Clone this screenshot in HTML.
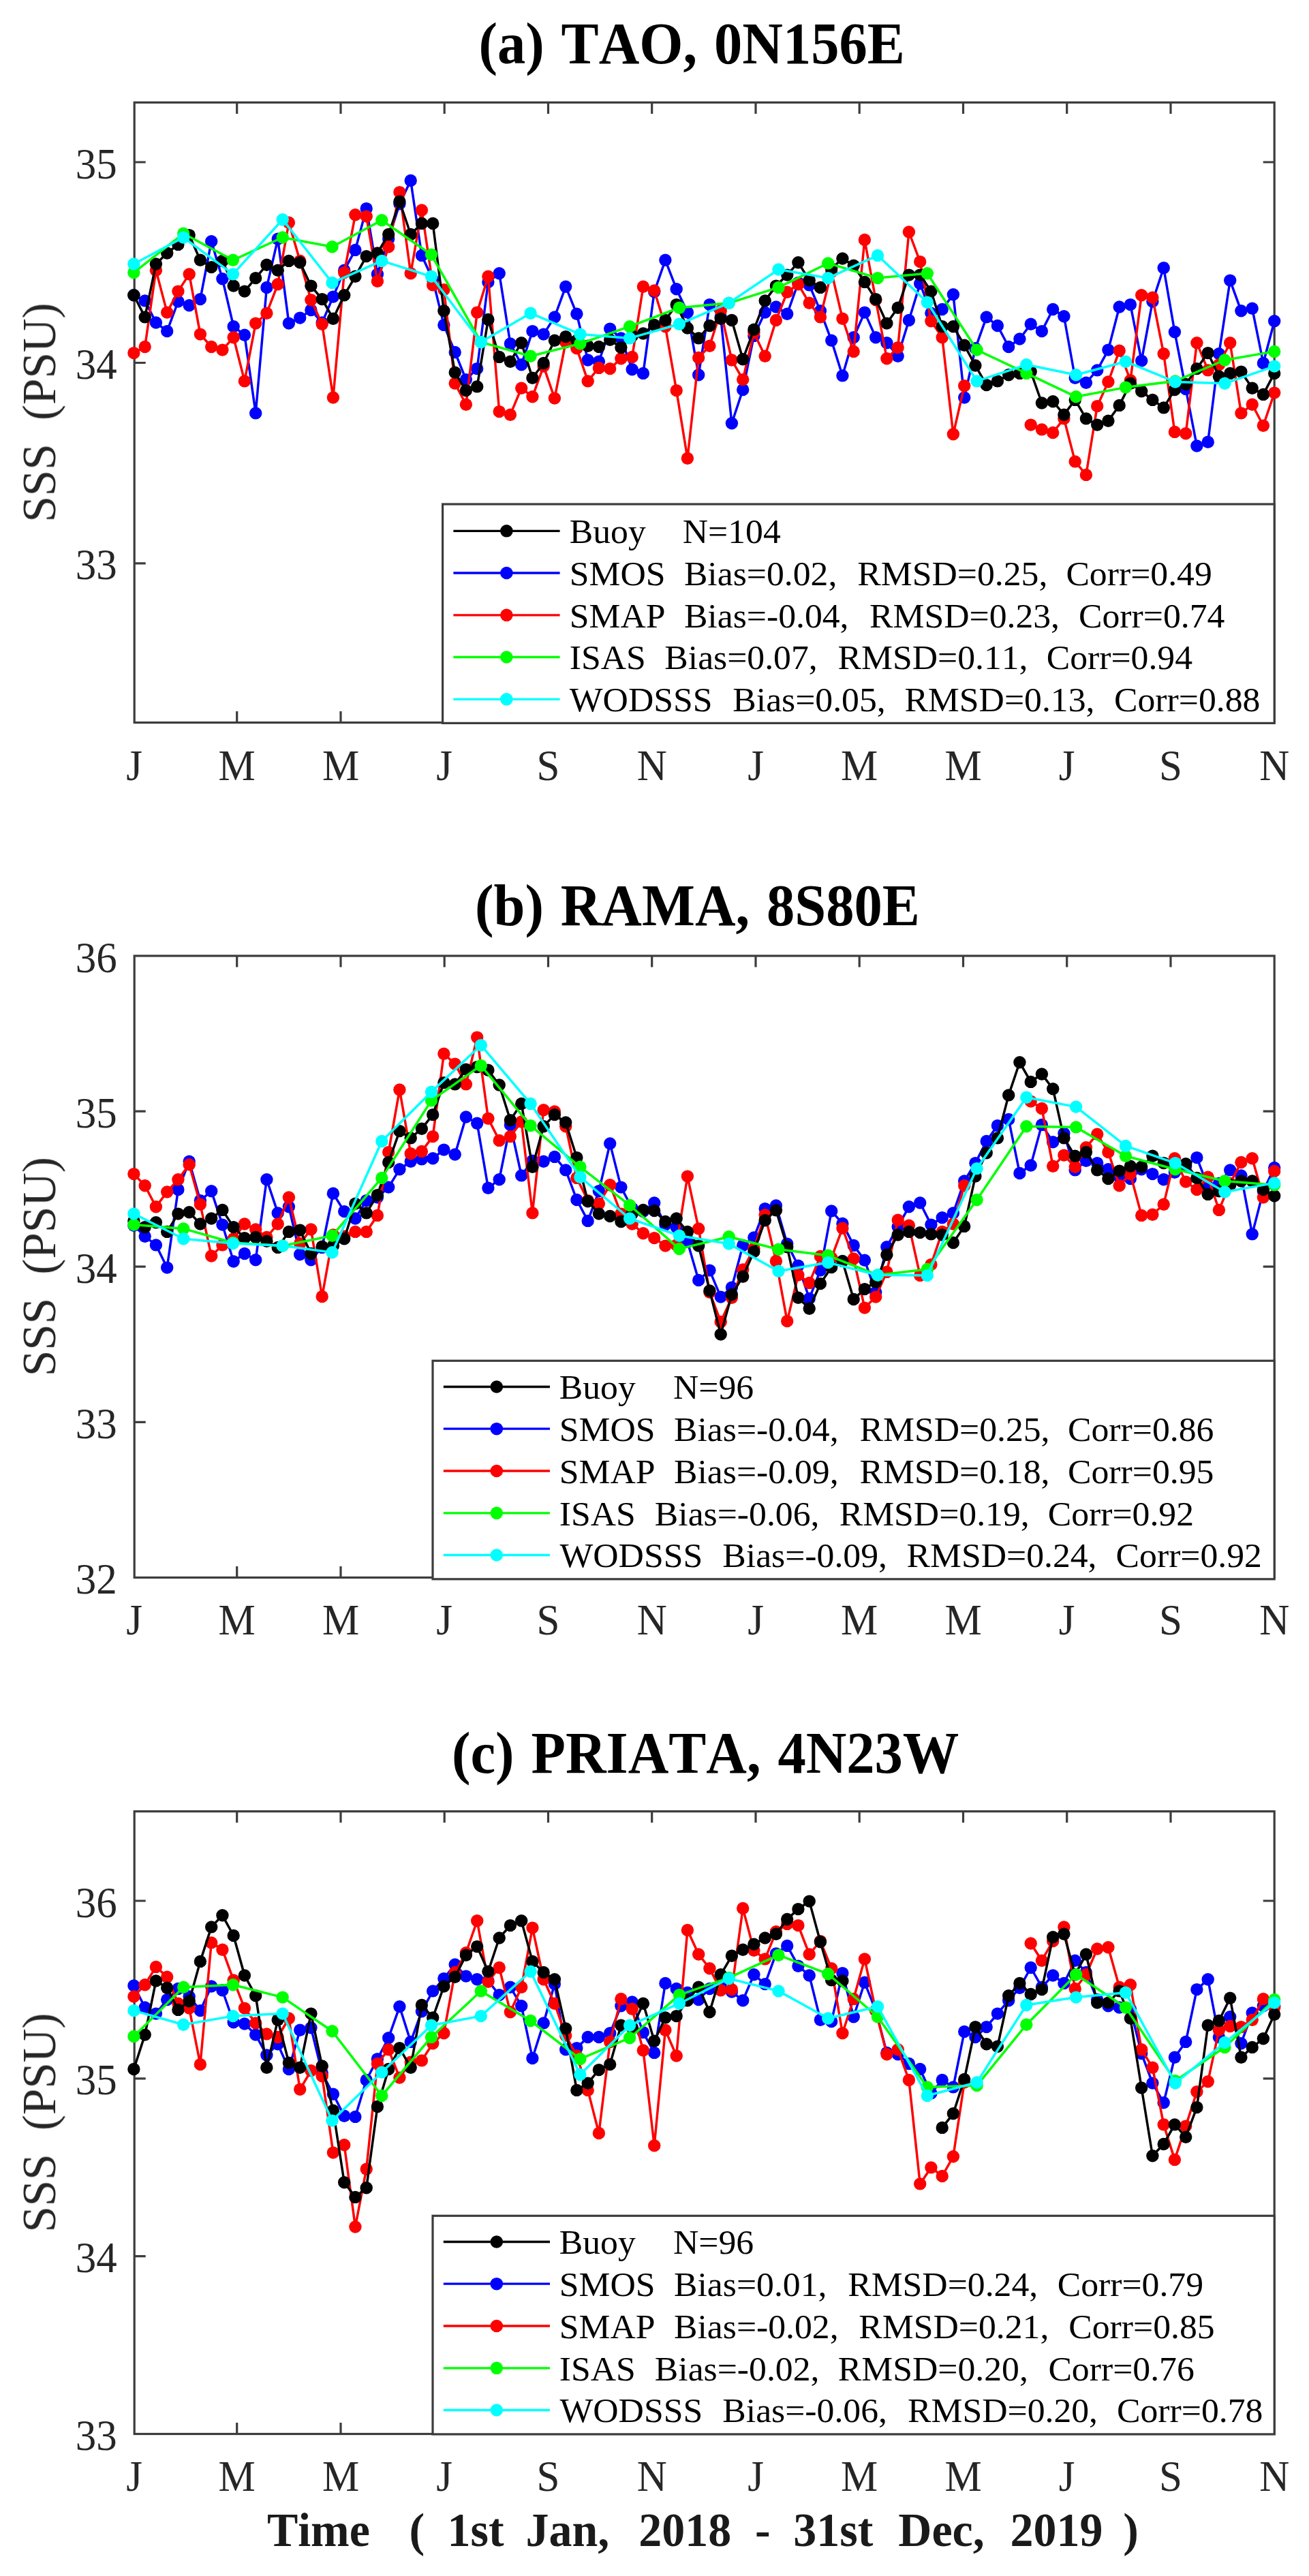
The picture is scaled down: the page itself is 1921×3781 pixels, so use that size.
<!DOCTYPE html>
<html lang="en"><head><meta charset="utf-8"><title>SSS time series: TAO, RAMA, PIRATA</title>
<style>html,body{margin:0;padding:0;background:#fff}svg{display:block}text{font-kerning:none;font-feature-settings:"kern" 0,"liga" 0;font-family:"Liberation Serif","Times New Roman",serif;fill:#262626}.t{font-size:63px}.l{font-size:51.7px;fill:#000}.ti{font-size:87.5px;word-spacing:4.5px;font-weight:bold;fill:#000}.yl{font-size:69px}.xl{font-size:70px;font-weight:bold;fill:#1a1a1a}</style></head><body>
<svg width="1921" height="3781" viewBox="0 0 1921 3781">
<rect x="0" y="0" width="1921" height="3781" fill="#ffffff"/>
<defs><filter id="soft" color-interpolation-filters="sRGB" filterUnits="userSpaceOnUse" x="0" y="0" width="1921" height="3781"><feGaussianBlur stdDeviation="0.6"/></filter></defs>
<g filter="url(#soft)">
<g stroke="#3c3c3c" stroke-width="3.2" fill="none" stroke-linecap="butt">
<rect x="197.2" y="150.4" width="1673.0" height="910.2"/>
<path d="M347.7 1060.6v-16.5M347.7 150.4v16.5"/>
<path d="M500.0 1060.6v-16.5M500.0 150.4v16.5"/>
<path d="M652.2 1060.6v-16.5M652.2 150.4v16.5"/>
<path d="M804.5 1060.6v-16.5M804.5 150.4v16.5"/>
<path d="M956.7 1060.6v-16.5M956.7 150.4v16.5"/>
<path d="M1109.0 1060.6v-16.5M1109.0 150.4v16.5"/>
<path d="M1261.2 1060.6v-16.5M1261.2 150.4v16.5"/>
<path d="M1413.5 1060.6v-16.5M1413.5 150.4v16.5"/>
<path d="M1565.7 1060.6v-16.5M1565.7 150.4v16.5"/>
<path d="M1718.0 1060.6v-16.5M1718.0 150.4v16.5"/>
<path d="M197.2 238.0h16.5M1870.2 238.0h-16.5"/>
<path d="M197.2 532.5h16.5M1870.2 532.5h-16.5"/>
<path d="M197.2 826.9h16.5M1870.2 826.9h-16.5"/>
</g>
<clipPath id="ca"><rect x="185.2" y="150.4" width="1697.0" height="910.2"/></clipPath>
<g clip-path="url(#ca)">
<g stroke="#0000ff" fill="#0000ff">
<polyline fill="none" stroke-width="3.5" stroke-linejoin="round" points="196.4,433.3 212.7,441.4 228.9,473.5 245.2,486.1 261.4,442.5 277.7,448.2 293.9,439.1 310.2,354.3 326.4,409.3 342.7,479.2 358.9,491.8 375.2,606.4 391.4,421.9 407.7,350.8 423.9,474.6 440.2,466.6 456.4,455.1 472.7,473.5 488.9,435.6 505.2,396.7 521.4,366.9 537.7,306.1 553.9,402.4 570.2,350.8 586.4,299.3 602.7,264.9 618.9,374.9 635.2,410.4 651.4,476.9 667.7,517.0 683.9,557.1 700.2,541.1 716.4,413.9 732.7,401.3 748.9,504.4 765.2,535.3 781.4,486.1 797.7,490.6 813.9,465.4 830.2,420.7 846.4,460.8 862.7,528.5 878.9,530.7 895.2,482.6 911.4,496.4 927.7,542.2 943.9,547.9 960.2,428.3 976.4,381.8 992.7,424.2 1008.9,458.6 1025.2,550.2 1041.4,447.1 1057.7,465.4 1073.9,621.3 1090.2,572.0 1106.4,492.9 1122.7,458.6 1138.9,450.5 1155.2,460.8 1171.4,415.0 1187.7,418.4 1203.9,456.3 1220.2,499.8 1236.4,551.4 1252.7,495.2 1268.9,458.6 1285.2,495.2 1301.4,503.2 1317.7,522.7 1333.9,470.0 1350.2,416.2 1366.4,459.7 1382.7,454.0 1398.9,432.2 1415.2,583.5 1431.4,511.3 1447.7,465.4 1463.9,478.0 1480.2,509.0 1496.4,497.5 1512.7,475.7 1528.9,486.1 1545.2,454.0 1561.4,464.3 1577.7,554.8 1593.9,561.7 1610.2,543.4 1626.4,513.6 1642.7,450.5 1658.9,447.1 1675.2,529.6 1691.4,442.5 1707.7,393.2 1723.9,487.2 1740.2,570.9 1756.4,654.5 1772.7,648.8 1788.9,519.3 1805.2,411.6 1821.4,456.3 1837.7,452.8 1853.9,533.0 1870.2,471.2"/>
<circle cx="196.4" cy="433.3" r="9.2" stroke="none"/>
<circle cx="212.7" cy="441.4" r="9.2" stroke="none"/>
<circle cx="228.9" cy="473.5" r="9.2" stroke="none"/>
<circle cx="245.2" cy="486.1" r="9.2" stroke="none"/>
<circle cx="261.4" cy="442.5" r="9.2" stroke="none"/>
<circle cx="277.7" cy="448.2" r="9.2" stroke="none"/>
<circle cx="293.9" cy="439.1" r="9.2" stroke="none"/>
<circle cx="310.2" cy="354.3" r="9.2" stroke="none"/>
<circle cx="326.4" cy="409.3" r="9.2" stroke="none"/>
<circle cx="342.7" cy="479.2" r="9.2" stroke="none"/>
<circle cx="358.9" cy="491.8" r="9.2" stroke="none"/>
<circle cx="375.2" cy="606.4" r="9.2" stroke="none"/>
<circle cx="391.4" cy="421.9" r="9.2" stroke="none"/>
<circle cx="407.7" cy="350.8" r="9.2" stroke="none"/>
<circle cx="423.9" cy="474.6" r="9.2" stroke="none"/>
<circle cx="440.2" cy="466.6" r="9.2" stroke="none"/>
<circle cx="456.4" cy="455.1" r="9.2" stroke="none"/>
<circle cx="472.7" cy="473.5" r="9.2" stroke="none"/>
<circle cx="488.9" cy="435.6" r="9.2" stroke="none"/>
<circle cx="505.2" cy="396.7" r="9.2" stroke="none"/>
<circle cx="521.4" cy="366.9" r="9.2" stroke="none"/>
<circle cx="537.7" cy="306.1" r="9.2" stroke="none"/>
<circle cx="553.9" cy="402.4" r="9.2" stroke="none"/>
<circle cx="570.2" cy="350.8" r="9.2" stroke="none"/>
<circle cx="586.4" cy="299.3" r="9.2" stroke="none"/>
<circle cx="602.7" cy="264.9" r="9.2" stroke="none"/>
<circle cx="618.9" cy="374.9" r="9.2" stroke="none"/>
<circle cx="635.2" cy="410.4" r="9.2" stroke="none"/>
<circle cx="651.4" cy="476.9" r="9.2" stroke="none"/>
<circle cx="667.7" cy="517.0" r="9.2" stroke="none"/>
<circle cx="683.9" cy="557.1" r="9.2" stroke="none"/>
<circle cx="700.2" cy="541.1" r="9.2" stroke="none"/>
<circle cx="716.4" cy="413.9" r="9.2" stroke="none"/>
<circle cx="732.7" cy="401.3" r="9.2" stroke="none"/>
<circle cx="748.9" cy="504.4" r="9.2" stroke="none"/>
<circle cx="765.2" cy="535.3" r="9.2" stroke="none"/>
<circle cx="781.4" cy="486.1" r="9.2" stroke="none"/>
<circle cx="797.7" cy="490.6" r="9.2" stroke="none"/>
<circle cx="813.9" cy="465.4" r="9.2" stroke="none"/>
<circle cx="830.2" cy="420.7" r="9.2" stroke="none"/>
<circle cx="846.4" cy="460.8" r="9.2" stroke="none"/>
<circle cx="862.7" cy="528.5" r="9.2" stroke="none"/>
<circle cx="878.9" cy="530.7" r="9.2" stroke="none"/>
<circle cx="895.2" cy="482.6" r="9.2" stroke="none"/>
<circle cx="911.4" cy="496.4" r="9.2" stroke="none"/>
<circle cx="927.7" cy="542.2" r="9.2" stroke="none"/>
<circle cx="943.9" cy="547.9" r="9.2" stroke="none"/>
<circle cx="960.2" cy="428.3" r="9.2" stroke="none"/>
<circle cx="976.4" cy="381.8" r="9.2" stroke="none"/>
<circle cx="992.7" cy="424.2" r="9.2" stroke="none"/>
<circle cx="1008.9" cy="458.6" r="9.2" stroke="none"/>
<circle cx="1025.2" cy="550.2" r="9.2" stroke="none"/>
<circle cx="1041.4" cy="447.1" r="9.2" stroke="none"/>
<circle cx="1057.7" cy="465.4" r="9.2" stroke="none"/>
<circle cx="1073.9" cy="621.3" r="9.2" stroke="none"/>
<circle cx="1090.2" cy="572.0" r="9.2" stroke="none"/>
<circle cx="1106.4" cy="492.9" r="9.2" stroke="none"/>
<circle cx="1122.7" cy="458.6" r="9.2" stroke="none"/>
<circle cx="1138.9" cy="450.5" r="9.2" stroke="none"/>
<circle cx="1155.2" cy="460.8" r="9.2" stroke="none"/>
<circle cx="1171.4" cy="415.0" r="9.2" stroke="none"/>
<circle cx="1187.7" cy="418.4" r="9.2" stroke="none"/>
<circle cx="1203.9" cy="456.3" r="9.2" stroke="none"/>
<circle cx="1220.2" cy="499.8" r="9.2" stroke="none"/>
<circle cx="1236.4" cy="551.4" r="9.2" stroke="none"/>
<circle cx="1252.7" cy="495.2" r="9.2" stroke="none"/>
<circle cx="1268.9" cy="458.6" r="9.2" stroke="none"/>
<circle cx="1285.2" cy="495.2" r="9.2" stroke="none"/>
<circle cx="1301.4" cy="503.2" r="9.2" stroke="none"/>
<circle cx="1317.7" cy="522.7" r="9.2" stroke="none"/>
<circle cx="1333.9" cy="470.0" r="9.2" stroke="none"/>
<circle cx="1350.2" cy="416.2" r="9.2" stroke="none"/>
<circle cx="1366.4" cy="459.7" r="9.2" stroke="none"/>
<circle cx="1382.7" cy="454.0" r="9.2" stroke="none"/>
<circle cx="1398.9" cy="432.2" r="9.2" stroke="none"/>
<circle cx="1415.2" cy="583.5" r="9.2" stroke="none"/>
<circle cx="1431.4" cy="511.3" r="9.2" stroke="none"/>
<circle cx="1447.7" cy="465.4" r="9.2" stroke="none"/>
<circle cx="1463.9" cy="478.0" r="9.2" stroke="none"/>
<circle cx="1480.2" cy="509.0" r="9.2" stroke="none"/>
<circle cx="1496.4" cy="497.5" r="9.2" stroke="none"/>
<circle cx="1512.7" cy="475.7" r="9.2" stroke="none"/>
<circle cx="1528.9" cy="486.1" r="9.2" stroke="none"/>
<circle cx="1545.2" cy="454.0" r="9.2" stroke="none"/>
<circle cx="1561.4" cy="464.3" r="9.2" stroke="none"/>
<circle cx="1577.7" cy="554.8" r="9.2" stroke="none"/>
<circle cx="1593.9" cy="561.7" r="9.2" stroke="none"/>
<circle cx="1610.2" cy="543.4" r="9.2" stroke="none"/>
<circle cx="1626.4" cy="513.6" r="9.2" stroke="none"/>
<circle cx="1642.7" cy="450.5" r="9.2" stroke="none"/>
<circle cx="1658.9" cy="447.1" r="9.2" stroke="none"/>
<circle cx="1675.2" cy="529.6" r="9.2" stroke="none"/>
<circle cx="1691.4" cy="442.5" r="9.2" stroke="none"/>
<circle cx="1707.7" cy="393.2" r="9.2" stroke="none"/>
<circle cx="1723.9" cy="487.2" r="9.2" stroke="none"/>
<circle cx="1740.2" cy="570.9" r="9.2" stroke="none"/>
<circle cx="1756.4" cy="654.5" r="9.2" stroke="none"/>
<circle cx="1772.7" cy="648.8" r="9.2" stroke="none"/>
<circle cx="1788.9" cy="519.3" r="9.2" stroke="none"/>
<circle cx="1805.2" cy="411.6" r="9.2" stroke="none"/>
<circle cx="1821.4" cy="456.3" r="9.2" stroke="none"/>
<circle cx="1837.7" cy="452.8" r="9.2" stroke="none"/>
<circle cx="1853.9" cy="533.0" r="9.2" stroke="none"/>
<circle cx="1870.2" cy="471.2" r="9.2" stroke="none"/>
</g>
<g stroke="#ff0000" fill="#ff0000">
<polyline fill="none" stroke-width="3.5" stroke-linejoin="round" points="196.4,518.1 212.7,509.0 228.9,396.7 245.2,458.6 261.4,427.6 277.7,402.4 293.9,490.6 310.2,509.0 326.4,513.6 342.7,495.2 358.9,559.4 375.2,474.6 391.4,459.7 407.7,417.3 423.9,326.8 440.2,382.9 456.4,440.2 472.7,475.7 488.9,583.5 505.2,400.1 521.4,315.3 537.7,317.6 553.9,412.7 570.2,362.3 586.4,282.1 602.7,401.3 618.9,308.4 635.2,418.4 651.4,425.3 667.7,562.8 683.9,593.8 700.2,458.6 716.4,405.8 732.7,604.1 748.9,608.7 765.2,569.7 781.4,582.3 797.7,537.6 813.9,584.6 830.2,502.1 846.4,511.3 862.7,559.4 878.9,539.9 895.2,541.1 911.4,526.2 927.7,523.9 943.9,420.7 960.2,426.5 976.4,479.2 992.7,573.1 1008.9,672.8 1025.2,525.0 1041.4,507.8 1057.7,456.3 1073.9,528.5 1090.2,557.1 1106.4,488.3 1122.7,522.7 1138.9,470.0 1155.2,428.8 1171.4,417.3 1187.7,444.8 1203.9,465.4 1220.2,399.0 1236.4,467.7 1252.7,515.9 1268.9,352.0 1285.2,440.2 1301.4,526.2 1317.7,510.1 1333.9,340.5 1350.2,384.1 1366.4,471.2 1382.7,495.2 1398.9,637.3 1415.2,566.3"/>
<polyline fill="none" stroke-width="3.5" stroke-linejoin="round" points="1512.7,623.6 1528.9,630.4 1545.2,635.0 1561.4,614.4 1577.7,677.4 1593.9,696.9 1610.2,596.1 1626.4,560.5 1642.7,514.7 1658.9,558.3 1675.2,433.3 1691.4,436.8 1707.7,519.3 1723.9,633.9 1740.2,636.2 1756.4,503.2 1772.7,543.4 1788.9,535.3 1805.2,503.2 1821.4,606.4 1837.7,593.8 1853.9,624.7 1870.2,576.6"/>
<circle cx="196.4" cy="518.1" r="9.2" stroke="none"/>
<circle cx="212.7" cy="509.0" r="9.2" stroke="none"/>
<circle cx="228.9" cy="396.7" r="9.2" stroke="none"/>
<circle cx="245.2" cy="458.6" r="9.2" stroke="none"/>
<circle cx="261.4" cy="427.6" r="9.2" stroke="none"/>
<circle cx="277.7" cy="402.4" r="9.2" stroke="none"/>
<circle cx="293.9" cy="490.6" r="9.2" stroke="none"/>
<circle cx="310.2" cy="509.0" r="9.2" stroke="none"/>
<circle cx="326.4" cy="513.6" r="9.2" stroke="none"/>
<circle cx="342.7" cy="495.2" r="9.2" stroke="none"/>
<circle cx="358.9" cy="559.4" r="9.2" stroke="none"/>
<circle cx="375.2" cy="474.6" r="9.2" stroke="none"/>
<circle cx="391.4" cy="459.7" r="9.2" stroke="none"/>
<circle cx="407.7" cy="417.3" r="9.2" stroke="none"/>
<circle cx="423.9" cy="326.8" r="9.2" stroke="none"/>
<circle cx="440.2" cy="382.9" r="9.2" stroke="none"/>
<circle cx="456.4" cy="440.2" r="9.2" stroke="none"/>
<circle cx="472.7" cy="475.7" r="9.2" stroke="none"/>
<circle cx="488.9" cy="583.5" r="9.2" stroke="none"/>
<circle cx="505.2" cy="400.1" r="9.2" stroke="none"/>
<circle cx="521.4" cy="315.3" r="9.2" stroke="none"/>
<circle cx="537.7" cy="317.6" r="9.2" stroke="none"/>
<circle cx="553.9" cy="412.7" r="9.2" stroke="none"/>
<circle cx="570.2" cy="362.3" r="9.2" stroke="none"/>
<circle cx="586.4" cy="282.1" r="9.2" stroke="none"/>
<circle cx="602.7" cy="401.3" r="9.2" stroke="none"/>
<circle cx="618.9" cy="308.4" r="9.2" stroke="none"/>
<circle cx="635.2" cy="418.4" r="9.2" stroke="none"/>
<circle cx="651.4" cy="425.3" r="9.2" stroke="none"/>
<circle cx="667.7" cy="562.8" r="9.2" stroke="none"/>
<circle cx="683.9" cy="593.8" r="9.2" stroke="none"/>
<circle cx="700.2" cy="458.6" r="9.2" stroke="none"/>
<circle cx="716.4" cy="405.8" r="9.2" stroke="none"/>
<circle cx="732.7" cy="604.1" r="9.2" stroke="none"/>
<circle cx="748.9" cy="608.7" r="9.2" stroke="none"/>
<circle cx="765.2" cy="569.7" r="9.2" stroke="none"/>
<circle cx="781.4" cy="582.3" r="9.2" stroke="none"/>
<circle cx="797.7" cy="537.6" r="9.2" stroke="none"/>
<circle cx="813.9" cy="584.6" r="9.2" stroke="none"/>
<circle cx="830.2" cy="502.1" r="9.2" stroke="none"/>
<circle cx="846.4" cy="511.3" r="9.2" stroke="none"/>
<circle cx="862.7" cy="559.4" r="9.2" stroke="none"/>
<circle cx="878.9" cy="539.9" r="9.2" stroke="none"/>
<circle cx="895.2" cy="541.1" r="9.2" stroke="none"/>
<circle cx="911.4" cy="526.2" r="9.2" stroke="none"/>
<circle cx="927.7" cy="523.9" r="9.2" stroke="none"/>
<circle cx="943.9" cy="420.7" r="9.2" stroke="none"/>
<circle cx="960.2" cy="426.5" r="9.2" stroke="none"/>
<circle cx="976.4" cy="479.2" r="9.2" stroke="none"/>
<circle cx="992.7" cy="573.1" r="9.2" stroke="none"/>
<circle cx="1008.9" cy="672.8" r="9.2" stroke="none"/>
<circle cx="1025.2" cy="525.0" r="9.2" stroke="none"/>
<circle cx="1041.4" cy="507.8" r="9.2" stroke="none"/>
<circle cx="1057.7" cy="456.3" r="9.2" stroke="none"/>
<circle cx="1073.9" cy="528.5" r="9.2" stroke="none"/>
<circle cx="1090.2" cy="557.1" r="9.2" stroke="none"/>
<circle cx="1106.4" cy="488.3" r="9.2" stroke="none"/>
<circle cx="1122.7" cy="522.7" r="9.2" stroke="none"/>
<circle cx="1138.9" cy="470.0" r="9.2" stroke="none"/>
<circle cx="1155.2" cy="428.8" r="9.2" stroke="none"/>
<circle cx="1171.4" cy="417.3" r="9.2" stroke="none"/>
<circle cx="1187.7" cy="444.8" r="9.2" stroke="none"/>
<circle cx="1203.9" cy="465.4" r="9.2" stroke="none"/>
<circle cx="1220.2" cy="399.0" r="9.2" stroke="none"/>
<circle cx="1236.4" cy="467.7" r="9.2" stroke="none"/>
<circle cx="1252.7" cy="515.9" r="9.2" stroke="none"/>
<circle cx="1268.9" cy="352.0" r="9.2" stroke="none"/>
<circle cx="1285.2" cy="440.2" r="9.2" stroke="none"/>
<circle cx="1301.4" cy="526.2" r="9.2" stroke="none"/>
<circle cx="1317.7" cy="510.1" r="9.2" stroke="none"/>
<circle cx="1333.9" cy="340.5" r="9.2" stroke="none"/>
<circle cx="1350.2" cy="384.1" r="9.2" stroke="none"/>
<circle cx="1366.4" cy="471.2" r="9.2" stroke="none"/>
<circle cx="1382.7" cy="495.2" r="9.2" stroke="none"/>
<circle cx="1398.9" cy="637.3" r="9.2" stroke="none"/>
<circle cx="1415.2" cy="566.3" r="9.2" stroke="none"/>
<circle cx="1512.7" cy="623.6" r="9.2" stroke="none"/>
<circle cx="1528.9" cy="630.4" r="9.2" stroke="none"/>
<circle cx="1545.2" cy="635.0" r="9.2" stroke="none"/>
<circle cx="1561.4" cy="614.4" r="9.2" stroke="none"/>
<circle cx="1577.7" cy="677.4" r="9.2" stroke="none"/>
<circle cx="1593.9" cy="696.9" r="9.2" stroke="none"/>
<circle cx="1610.2" cy="596.1" r="9.2" stroke="none"/>
<circle cx="1626.4" cy="560.5" r="9.2" stroke="none"/>
<circle cx="1642.7" cy="514.7" r="9.2" stroke="none"/>
<circle cx="1658.9" cy="558.3" r="9.2" stroke="none"/>
<circle cx="1675.2" cy="433.3" r="9.2" stroke="none"/>
<circle cx="1691.4" cy="436.8" r="9.2" stroke="none"/>
<circle cx="1707.7" cy="519.3" r="9.2" stroke="none"/>
<circle cx="1723.9" cy="633.9" r="9.2" stroke="none"/>
<circle cx="1740.2" cy="636.2" r="9.2" stroke="none"/>
<circle cx="1756.4" cy="503.2" r="9.2" stroke="none"/>
<circle cx="1772.7" cy="543.4" r="9.2" stroke="none"/>
<circle cx="1788.9" cy="535.3" r="9.2" stroke="none"/>
<circle cx="1805.2" cy="503.2" r="9.2" stroke="none"/>
<circle cx="1821.4" cy="606.4" r="9.2" stroke="none"/>
<circle cx="1837.7" cy="593.8" r="9.2" stroke="none"/>
<circle cx="1853.9" cy="624.7" r="9.2" stroke="none"/>
<circle cx="1870.2" cy="576.6" r="9.2" stroke="none"/>
</g>
<g stroke="#000000" fill="#000000">
<polyline fill="none" stroke-width="3.5" stroke-linejoin="round" points="196.4,433.3 212.7,465.4 228.9,387.5 245.2,371.5 261.4,358.9 277.7,345.1 293.9,381.8 310.2,392.1 326.4,382.9 342.7,419.6 358.9,427.6 375.2,408.1 391.4,388.7 407.7,396.7 423.9,382.9 440.2,385.2 456.4,419.6 472.7,439.1 488.9,467.7 505.2,433.3 521.4,405.8 537.7,376.1 553.9,371.5 570.2,344.0 586.4,295.8 602.7,344.0 618.9,327.9 635.2,327.9 651.4,456.3 667.7,546.8 683.9,573.1 700.2,567.4 716.4,468.9 732.7,523.9 748.9,530.7 765.2,503.2 781.4,554.8 797.7,533.0 813.9,499.8 830.2,494.1 846.4,499.8 862.7,507.8 878.9,509.0 895.2,498.7 911.4,510.1 927.7,492.9 943.9,489.5 960.2,476.9 976.4,470.0 992.7,447.1 1008.9,481.5 1025.2,496.4 1041.4,478.0 1057.7,467.7 1073.9,470.0 1090.2,527.3 1106.4,483.8 1122.7,441.4 1138.9,419.6 1155.2,403.6 1171.4,385.2 1187.7,411.6 1203.9,421.9 1220.2,394.4 1236.4,379.5 1252.7,389.8 1268.9,413.9 1285.2,439.1 1301.4,474.6 1317.7,451.7 1333.9,403.6 1350.2,403.6 1366.4,427.6 1382.7,479.2 1398.9,479.2 1415.2,506.7 1431.4,536.5 1447.7,565.1 1463.9,559.4 1480.2,550.2 1496.4,547.9 1512.7,545.6 1528.9,591.5 1545.2,589.2 1561.4,608.7 1577.7,586.9 1593.9,614.4 1610.2,623.6 1626.4,617.8 1642.7,594.9 1658.9,562.8 1675.2,574.3 1691.4,586.9 1707.7,598.4 1723.9,572.0 1740.2,564.0 1756.4,541.1 1772.7,518.1 1788.9,552.5 1805.2,547.9 1821.4,545.6 1837.7,569.7 1853.9,578.9 1870.2,547.9"/>
<circle cx="196.4" cy="433.3" r="9.2" stroke="none"/>
<circle cx="212.7" cy="465.4" r="9.2" stroke="none"/>
<circle cx="228.9" cy="387.5" r="9.2" stroke="none"/>
<circle cx="245.2" cy="371.5" r="9.2" stroke="none"/>
<circle cx="261.4" cy="358.9" r="9.2" stroke="none"/>
<circle cx="277.7" cy="345.1" r="9.2" stroke="none"/>
<circle cx="293.9" cy="381.8" r="9.2" stroke="none"/>
<circle cx="310.2" cy="392.1" r="9.2" stroke="none"/>
<circle cx="326.4" cy="382.9" r="9.2" stroke="none"/>
<circle cx="342.7" cy="419.6" r="9.2" stroke="none"/>
<circle cx="358.9" cy="427.6" r="9.2" stroke="none"/>
<circle cx="375.2" cy="408.1" r="9.2" stroke="none"/>
<circle cx="391.4" cy="388.7" r="9.2" stroke="none"/>
<circle cx="407.7" cy="396.7" r="9.2" stroke="none"/>
<circle cx="423.9" cy="382.9" r="9.2" stroke="none"/>
<circle cx="440.2" cy="385.2" r="9.2" stroke="none"/>
<circle cx="456.4" cy="419.6" r="9.2" stroke="none"/>
<circle cx="472.7" cy="439.1" r="9.2" stroke="none"/>
<circle cx="488.9" cy="467.7" r="9.2" stroke="none"/>
<circle cx="505.2" cy="433.3" r="9.2" stroke="none"/>
<circle cx="521.4" cy="405.8" r="9.2" stroke="none"/>
<circle cx="537.7" cy="376.1" r="9.2" stroke="none"/>
<circle cx="553.9" cy="371.5" r="9.2" stroke="none"/>
<circle cx="570.2" cy="344.0" r="9.2" stroke="none"/>
<circle cx="586.4" cy="295.8" r="9.2" stroke="none"/>
<circle cx="602.7" cy="344.0" r="9.2" stroke="none"/>
<circle cx="618.9" cy="327.9" r="9.2" stroke="none"/>
<circle cx="635.2" cy="327.9" r="9.2" stroke="none"/>
<circle cx="651.4" cy="456.3" r="9.2" stroke="none"/>
<circle cx="667.7" cy="546.8" r="9.2" stroke="none"/>
<circle cx="683.9" cy="573.1" r="9.2" stroke="none"/>
<circle cx="700.2" cy="567.4" r="9.2" stroke="none"/>
<circle cx="716.4" cy="468.9" r="9.2" stroke="none"/>
<circle cx="732.7" cy="523.9" r="9.2" stroke="none"/>
<circle cx="748.9" cy="530.7" r="9.2" stroke="none"/>
<circle cx="765.2" cy="503.2" r="9.2" stroke="none"/>
<circle cx="781.4" cy="554.8" r="9.2" stroke="none"/>
<circle cx="797.7" cy="533.0" r="9.2" stroke="none"/>
<circle cx="813.9" cy="499.8" r="9.2" stroke="none"/>
<circle cx="830.2" cy="494.1" r="9.2" stroke="none"/>
<circle cx="846.4" cy="499.8" r="9.2" stroke="none"/>
<circle cx="862.7" cy="507.8" r="9.2" stroke="none"/>
<circle cx="878.9" cy="509.0" r="9.2" stroke="none"/>
<circle cx="895.2" cy="498.7" r="9.2" stroke="none"/>
<circle cx="911.4" cy="510.1" r="9.2" stroke="none"/>
<circle cx="927.7" cy="492.9" r="9.2" stroke="none"/>
<circle cx="943.9" cy="489.5" r="9.2" stroke="none"/>
<circle cx="960.2" cy="476.9" r="9.2" stroke="none"/>
<circle cx="976.4" cy="470.0" r="9.2" stroke="none"/>
<circle cx="992.7" cy="447.1" r="9.2" stroke="none"/>
<circle cx="1008.9" cy="481.5" r="9.2" stroke="none"/>
<circle cx="1025.2" cy="496.4" r="9.2" stroke="none"/>
<circle cx="1041.4" cy="478.0" r="9.2" stroke="none"/>
<circle cx="1057.7" cy="467.7" r="9.2" stroke="none"/>
<circle cx="1073.9" cy="470.0" r="9.2" stroke="none"/>
<circle cx="1090.2" cy="527.3" r="9.2" stroke="none"/>
<circle cx="1106.4" cy="483.8" r="9.2" stroke="none"/>
<circle cx="1122.7" cy="441.4" r="9.2" stroke="none"/>
<circle cx="1138.9" cy="419.6" r="9.2" stroke="none"/>
<circle cx="1155.2" cy="403.6" r="9.2" stroke="none"/>
<circle cx="1171.4" cy="385.2" r="9.2" stroke="none"/>
<circle cx="1187.7" cy="411.6" r="9.2" stroke="none"/>
<circle cx="1203.9" cy="421.9" r="9.2" stroke="none"/>
<circle cx="1220.2" cy="394.4" r="9.2" stroke="none"/>
<circle cx="1236.4" cy="379.5" r="9.2" stroke="none"/>
<circle cx="1252.7" cy="389.8" r="9.2" stroke="none"/>
<circle cx="1268.9" cy="413.9" r="9.2" stroke="none"/>
<circle cx="1285.2" cy="439.1" r="9.2" stroke="none"/>
<circle cx="1301.4" cy="474.6" r="9.2" stroke="none"/>
<circle cx="1317.7" cy="451.7" r="9.2" stroke="none"/>
<circle cx="1333.9" cy="403.6" r="9.2" stroke="none"/>
<circle cx="1350.2" cy="403.6" r="9.2" stroke="none"/>
<circle cx="1366.4" cy="427.6" r="9.2" stroke="none"/>
<circle cx="1382.7" cy="479.2" r="9.2" stroke="none"/>
<circle cx="1398.9" cy="479.2" r="9.2" stroke="none"/>
<circle cx="1415.2" cy="506.7" r="9.2" stroke="none"/>
<circle cx="1431.4" cy="536.5" r="9.2" stroke="none"/>
<circle cx="1447.7" cy="565.1" r="9.2" stroke="none"/>
<circle cx="1463.9" cy="559.4" r="9.2" stroke="none"/>
<circle cx="1480.2" cy="550.2" r="9.2" stroke="none"/>
<circle cx="1496.4" cy="547.9" r="9.2" stroke="none"/>
<circle cx="1512.7" cy="545.6" r="9.2" stroke="none"/>
<circle cx="1528.9" cy="591.5" r="9.2" stroke="none"/>
<circle cx="1545.2" cy="589.2" r="9.2" stroke="none"/>
<circle cx="1561.4" cy="608.7" r="9.2" stroke="none"/>
<circle cx="1577.7" cy="586.9" r="9.2" stroke="none"/>
<circle cx="1593.9" cy="614.4" r="9.2" stroke="none"/>
<circle cx="1610.2" cy="623.6" r="9.2" stroke="none"/>
<circle cx="1626.4" cy="617.8" r="9.2" stroke="none"/>
<circle cx="1642.7" cy="594.9" r="9.2" stroke="none"/>
<circle cx="1658.9" cy="562.8" r="9.2" stroke="none"/>
<circle cx="1675.2" cy="574.3" r="9.2" stroke="none"/>
<circle cx="1691.4" cy="586.9" r="9.2" stroke="none"/>
<circle cx="1707.7" cy="598.4" r="9.2" stroke="none"/>
<circle cx="1723.9" cy="572.0" r="9.2" stroke="none"/>
<circle cx="1740.2" cy="564.0" r="9.2" stroke="none"/>
<circle cx="1756.4" cy="541.1" r="9.2" stroke="none"/>
<circle cx="1772.7" cy="518.1" r="9.2" stroke="none"/>
<circle cx="1788.9" cy="552.5" r="9.2" stroke="none"/>
<circle cx="1805.2" cy="547.9" r="9.2" stroke="none"/>
<circle cx="1821.4" cy="545.6" r="9.2" stroke="none"/>
<circle cx="1837.7" cy="569.7" r="9.2" stroke="none"/>
<circle cx="1853.9" cy="578.9" r="9.2" stroke="none"/>
<circle cx="1870.2" cy="547.9" r="9.2" stroke="none"/>
</g>
<g stroke="#00ff00" fill="#00ff00">
<polyline fill="none" stroke-width="3.5" stroke-linejoin="round" points="196.4,400.1 269.2,342.8 341.9,381.8 414.7,348.5 487.5,362.3 560.3,323.3 633.0,373.8 705.8,502.1 778.6,522.7 851.4,504.4 924.1,479.2 996.9,451.7 1069.7,444.8 1142.5,421.9 1215.2,386.4 1288.0,408.1 1360.8,401.3 1433.6,513.6 1506.3,547.9 1579.1,582.3 1651.9,568.6 1724.7,559.4 1797.4,528.5 1870.2,515.9"/>
<circle cx="196.4" cy="400.1" r="9.2" stroke="none"/>
<circle cx="269.2" cy="342.8" r="9.2" stroke="none"/>
<circle cx="341.9" cy="381.8" r="9.2" stroke="none"/>
<circle cx="414.7" cy="348.5" r="9.2" stroke="none"/>
<circle cx="487.5" cy="362.3" r="9.2" stroke="none"/>
<circle cx="560.3" cy="323.3" r="9.2" stroke="none"/>
<circle cx="633.0" cy="373.8" r="9.2" stroke="none"/>
<circle cx="705.8" cy="502.1" r="9.2" stroke="none"/>
<circle cx="778.6" cy="522.7" r="9.2" stroke="none"/>
<circle cx="851.4" cy="504.4" r="9.2" stroke="none"/>
<circle cx="924.1" cy="479.2" r="9.2" stroke="none"/>
<circle cx="996.9" cy="451.7" r="9.2" stroke="none"/>
<circle cx="1069.7" cy="444.8" r="9.2" stroke="none"/>
<circle cx="1142.5" cy="421.9" r="9.2" stroke="none"/>
<circle cx="1215.2" cy="386.4" r="9.2" stroke="none"/>
<circle cx="1288.0" cy="408.1" r="9.2" stroke="none"/>
<circle cx="1360.8" cy="401.3" r="9.2" stroke="none"/>
<circle cx="1433.6" cy="513.6" r="9.2" stroke="none"/>
<circle cx="1506.3" cy="547.9" r="9.2" stroke="none"/>
<circle cx="1579.1" cy="582.3" r="9.2" stroke="none"/>
<circle cx="1651.9" cy="568.6" r="9.2" stroke="none"/>
<circle cx="1724.7" cy="559.4" r="9.2" stroke="none"/>
<circle cx="1797.4" cy="528.5" r="9.2" stroke="none"/>
<circle cx="1870.2" cy="515.9" r="9.2" stroke="none"/>
</g>
<g stroke="#00ffff" fill="#00ffff">
<polyline fill="none" stroke-width="3.5" stroke-linejoin="round" points="196.4,387.5 269.2,348.5 341.9,402.4 414.7,322.2 487.5,415.0 560.3,382.9 633.0,405.8 705.8,502.1 778.6,459.7 851.4,490.6 924.1,496.4 996.9,475.7 1069.7,444.8 1142.5,395.5 1215.2,408.1 1288.0,374.9 1360.8,443.7 1433.6,559.4 1506.3,535.3 1579.1,550.2 1651.9,530.7 1724.7,560.5 1797.4,562.8 1870.2,537.6"/>
<circle cx="196.4" cy="387.5" r="9.2" stroke="none"/>
<circle cx="269.2" cy="348.5" r="9.2" stroke="none"/>
<circle cx="341.9" cy="402.4" r="9.2" stroke="none"/>
<circle cx="414.7" cy="322.2" r="9.2" stroke="none"/>
<circle cx="487.5" cy="415.0" r="9.2" stroke="none"/>
<circle cx="560.3" cy="382.9" r="9.2" stroke="none"/>
<circle cx="633.0" cy="405.8" r="9.2" stroke="none"/>
<circle cx="705.8" cy="502.1" r="9.2" stroke="none"/>
<circle cx="778.6" cy="459.7" r="9.2" stroke="none"/>
<circle cx="851.4" cy="490.6" r="9.2" stroke="none"/>
<circle cx="924.1" cy="496.4" r="9.2" stroke="none"/>
<circle cx="996.9" cy="475.7" r="9.2" stroke="none"/>
<circle cx="1069.7" cy="444.8" r="9.2" stroke="none"/>
<circle cx="1142.5" cy="395.5" r="9.2" stroke="none"/>
<circle cx="1215.2" cy="408.1" r="9.2" stroke="none"/>
<circle cx="1288.0" cy="374.9" r="9.2" stroke="none"/>
<circle cx="1360.8" cy="443.7" r="9.2" stroke="none"/>
<circle cx="1433.6" cy="559.4" r="9.2" stroke="none"/>
<circle cx="1506.3" cy="535.3" r="9.2" stroke="none"/>
<circle cx="1579.1" cy="550.2" r="9.2" stroke="none"/>
<circle cx="1651.9" cy="530.7" r="9.2" stroke="none"/>
<circle cx="1724.7" cy="560.5" r="9.2" stroke="none"/>
<circle cx="1797.4" cy="562.8" r="9.2" stroke="none"/>
<circle cx="1870.2" cy="537.6" r="9.2" stroke="none"/>
</g>
</g>
<text class="t" transform="translate(197.2 1145.4) scale(0.968 1)" text-anchor="middle">J</text>
<text class="t" transform="translate(347.7 1145.4) scale(0.968 1)" text-anchor="middle">M</text>
<text class="t" transform="translate(500.0 1145.4) scale(0.968 1)" text-anchor="middle">M</text>
<text class="t" transform="translate(652.2 1145.4) scale(0.968 1)" text-anchor="middle">J</text>
<text class="t" transform="translate(804.5 1145.4) scale(0.968 1)" text-anchor="middle">S</text>
<text class="t" transform="translate(956.7 1145.4) scale(0.968 1)" text-anchor="middle">N</text>
<text class="t" transform="translate(1109.0 1145.4) scale(0.968 1)" text-anchor="middle">J</text>
<text class="t" transform="translate(1261.2 1145.4) scale(0.968 1)" text-anchor="middle">M</text>
<text class="t" transform="translate(1413.5 1145.4) scale(0.968 1)" text-anchor="middle">M</text>
<text class="t" transform="translate(1565.7 1145.4) scale(0.968 1)" text-anchor="middle">J</text>
<text class="t" transform="translate(1718.0 1145.4) scale(0.968 1)" text-anchor="middle">S</text>
<text class="t" transform="translate(1870.2 1145.4) scale(0.968 1)" text-anchor="middle">N</text>
<text class="t" transform="translate(171.7 261.5) scale(0.968 1)" text-anchor="end">35</text>
<text class="t" transform="translate(171.7 556.0) scale(0.968 1)" text-anchor="end">34</text>
<text class="t" transform="translate(171.7 850.4) scale(0.968 1)" text-anchor="end">33</text>
<text class="yl" xml:space="preserve" transform="translate(81 605.5) rotate(-90)" text-anchor="middle">SSS  (PSU)</text>
<text class="ti" transform="translate(702.5 93.2) scale(0.9435 1)">(a) TAO, 0N156E</text>
<rect x="649.6" y="740.0" width="1220.6" height="321.4" fill="#ffffff" stroke="#3c3c3c" stroke-width="3.2"/>
<path d="M665.4 779.3H821.6" stroke="#000000" stroke-width="3.3"/>
<circle cx="743.4" cy="779.3" r="9.3" fill="#000000"/>
<text class="l" x="835.8" y="797.1">Buoy</text>
<text class="l" x="1001.8" y="797.1">N=104</text>
<path d="M665.4 841.0H821.6" stroke="#0000ff" stroke-width="3.3"/>
<circle cx="743.4" cy="841.0" r="9.3" fill="#0000ff"/>
<text class="l" x="835.8" y="858.8">SMOS</text>
<text class="l" x="1003.9" y="858.8">Bias=0.02,</text>
<text class="l" x="1258.3" y="858.8">RMSD=0.25,</text>
<text class="l" x="1564.4" y="858.8">Corr=0.49</text>
<path d="M665.4 902.8H821.6" stroke="#ff0000" stroke-width="3.3"/>
<circle cx="743.4" cy="902.8" r="9.3" fill="#ff0000"/>
<text class="l" x="835.8" y="920.6">SMAP</text>
<text class="l" x="1003.9" y="920.6">Bias=-0.04,</text>
<text class="l" x="1276.0" y="920.6">RMSD=0.23,</text>
<text class="l" x="1583.0" y="920.6">Corr=0.74</text>
<path d="M665.4 964.5H821.6" stroke="#00ff00" stroke-width="3.3"/>
<circle cx="743.4" cy="964.5" r="9.3" fill="#00ff00"/>
<text class="l" x="835.8" y="982.3">ISAS</text>
<text class="l" x="975.3" y="982.3">Bias=0.07,</text>
<text class="l" x="1229.5" y="982.3">RMSD=0.11,</text>
<text class="l" x="1535.7" y="982.3">Corr=0.94</text>
<path d="M665.4 1026.3H821.6" stroke="#00ffff" stroke-width="3.3"/>
<circle cx="743.4" cy="1026.3" r="9.3" fill="#00ffff"/>
<text class="l" x="835.8" y="1044.1">WODSSS</text>
<text class="l" x="1075.3" y="1044.1">Bias=0.05,</text>
<text class="l" x="1327.4" y="1044.1">RMSD=0.13,</text>
<text class="l" x="1635.0" y="1044.1">Corr=0.88</text>
<g stroke="#3c3c3c" stroke-width="3.2" fill="none" stroke-linecap="butt">
<rect x="197.2" y="1403.0" width="1673.0" height="912.5"/>
<path d="M347.7 2315.5v-16.5M347.7 1403.0v16.5"/>
<path d="M500.0 2315.5v-16.5M500.0 1403.0v16.5"/>
<path d="M652.2 2315.5v-16.5M652.2 1403.0v16.5"/>
<path d="M804.5 2315.5v-16.5M804.5 1403.0v16.5"/>
<path d="M956.7 2315.5v-16.5M956.7 1403.0v16.5"/>
<path d="M1109.0 2315.5v-16.5M1109.0 1403.0v16.5"/>
<path d="M1261.2 2315.5v-16.5M1261.2 1403.0v16.5"/>
<path d="M1413.5 2315.5v-16.5M1413.5 1403.0v16.5"/>
<path d="M1565.7 2315.5v-16.5M1565.7 1403.0v16.5"/>
<path d="M1718.0 2315.5v-16.5M1718.0 1403.0v16.5"/>
<path d="M197.2 1631.1h16.5M1870.2 1631.1h-16.5"/>
<path d="M197.2 1859.2h16.5M1870.2 1859.2h-16.5"/>
<path d="M197.2 2087.4h16.5M1870.2 2087.4h-16.5"/>
</g>
<clipPath id="cb"><rect x="185.2" y="1403.0" width="1697.0" height="912.5"/></clipPath>
<g clip-path="url(#cb)">
<g stroke="#0000ff" fill="#0000ff">
<polyline fill="none" stroke-width="3.5" stroke-linejoin="round" points="196.4,1798.8 212.7,1814.8 228.9,1827.4 245.2,1860.6 261.4,1746.1 277.7,1704.8 293.9,1762.1 310.2,1748.3 326.4,1797.6 342.7,1851.5 358.9,1840.0 375.2,1849.2 391.4,1731.2 407.7,1780.4 423.9,1771.3 440.2,1841.2 456.4,1849.2 472.7,1830.9 488.9,1751.8 505.2,1778.1 521.4,1788.5 537.7,1762.1 553.9,1757.5 570.2,1742.6 586.4,1716.3 602.7,1704.8 618.9,1701.4 635.2,1700.2 651.4,1687.6 667.7,1694.5 683.9,1639.5 700.2,1648.7 716.4,1743.8 732.7,1731.2 748.9,1650.9 765.2,1725.4 781.4,1703.7 797.7,1704.8 813.9,1697.9 830.2,1717.4 846.4,1761.0 862.7,1791.9 878.9,1748.3 895.2,1678.4 911.4,1742.6 927.7,1773.6 943.9,1778.1 960.2,1765.5 976.4,1797.6 992.7,1801.1 1008.9,1822.8 1025.2,1879.0 1041.4,1864.6 1057.7,1903.6 1073.9,1889.8 1090.2,1827.9 1106.4,1816.5 1122.7,1774.1 1138.9,1769.5 1155.2,1825.6 1171.4,1857.7 1187.7,1905.9 1203.9,1864.6 1220.2,1777.5 1236.4,1795.9 1252.7,1827.9 1268.9,1849.7 1285.2,1896.7 1301.4,1830.2 1317.7,1800.4 1333.9,1771.3 1350.2,1765.5 1366.4,1797.6 1382.7,1787.3 1398.9,1780.4 1415.2,1733.5 1431.4,1707.1 1447.7,1675.0 1463.9,1652.1 1480.2,1642.9 1496.4,1722.0 1512.7,1710.5 1528.9,1650.9 1545.2,1676.2 1561.4,1663.6 1577.7,1717.4 1593.9,1703.7 1610.2,1707.1 1626.4,1716.3 1642.7,1727.7 1658.9,1730.0 1675.2,1716.3 1691.4,1723.1 1707.7,1731.2 1723.9,1720.8 1740.2,1711.7 1756.4,1699.1 1772.7,1741.5 1788.9,1736.9 1805.2,1717.4 1821.4,1725.4 1837.7,1811.4 1853.9,1748.3 1870.2,1714.0"/>
<circle cx="196.4" cy="1798.8" r="9.2" stroke="none"/>
<circle cx="212.7" cy="1814.8" r="9.2" stroke="none"/>
<circle cx="228.9" cy="1827.4" r="9.2" stroke="none"/>
<circle cx="245.2" cy="1860.6" r="9.2" stroke="none"/>
<circle cx="261.4" cy="1746.1" r="9.2" stroke="none"/>
<circle cx="277.7" cy="1704.8" r="9.2" stroke="none"/>
<circle cx="293.9" cy="1762.1" r="9.2" stroke="none"/>
<circle cx="310.2" cy="1748.3" r="9.2" stroke="none"/>
<circle cx="326.4" cy="1797.6" r="9.2" stroke="none"/>
<circle cx="342.7" cy="1851.5" r="9.2" stroke="none"/>
<circle cx="358.9" cy="1840.0" r="9.2" stroke="none"/>
<circle cx="375.2" cy="1849.2" r="9.2" stroke="none"/>
<circle cx="391.4" cy="1731.2" r="9.2" stroke="none"/>
<circle cx="407.7" cy="1780.4" r="9.2" stroke="none"/>
<circle cx="423.9" cy="1771.3" r="9.2" stroke="none"/>
<circle cx="440.2" cy="1841.2" r="9.2" stroke="none"/>
<circle cx="456.4" cy="1849.2" r="9.2" stroke="none"/>
<circle cx="472.7" cy="1830.9" r="9.2" stroke="none"/>
<circle cx="488.9" cy="1751.8" r="9.2" stroke="none"/>
<circle cx="505.2" cy="1778.1" r="9.2" stroke="none"/>
<circle cx="521.4" cy="1788.5" r="9.2" stroke="none"/>
<circle cx="537.7" cy="1762.1" r="9.2" stroke="none"/>
<circle cx="553.9" cy="1757.5" r="9.2" stroke="none"/>
<circle cx="570.2" cy="1742.6" r="9.2" stroke="none"/>
<circle cx="586.4" cy="1716.3" r="9.2" stroke="none"/>
<circle cx="602.7" cy="1704.8" r="9.2" stroke="none"/>
<circle cx="618.9" cy="1701.4" r="9.2" stroke="none"/>
<circle cx="635.2" cy="1700.2" r="9.2" stroke="none"/>
<circle cx="651.4" cy="1687.6" r="9.2" stroke="none"/>
<circle cx="667.7" cy="1694.5" r="9.2" stroke="none"/>
<circle cx="683.9" cy="1639.5" r="9.2" stroke="none"/>
<circle cx="700.2" cy="1648.7" r="9.2" stroke="none"/>
<circle cx="716.4" cy="1743.8" r="9.2" stroke="none"/>
<circle cx="732.7" cy="1731.2" r="9.2" stroke="none"/>
<circle cx="748.9" cy="1650.9" r="9.2" stroke="none"/>
<circle cx="765.2" cy="1725.4" r="9.2" stroke="none"/>
<circle cx="781.4" cy="1703.7" r="9.2" stroke="none"/>
<circle cx="797.7" cy="1704.8" r="9.2" stroke="none"/>
<circle cx="813.9" cy="1697.9" r="9.2" stroke="none"/>
<circle cx="830.2" cy="1717.4" r="9.2" stroke="none"/>
<circle cx="846.4" cy="1761.0" r="9.2" stroke="none"/>
<circle cx="862.7" cy="1791.9" r="9.2" stroke="none"/>
<circle cx="878.9" cy="1748.3" r="9.2" stroke="none"/>
<circle cx="895.2" cy="1678.4" r="9.2" stroke="none"/>
<circle cx="911.4" cy="1742.6" r="9.2" stroke="none"/>
<circle cx="927.7" cy="1773.6" r="9.2" stroke="none"/>
<circle cx="943.9" cy="1778.1" r="9.2" stroke="none"/>
<circle cx="960.2" cy="1765.5" r="9.2" stroke="none"/>
<circle cx="976.4" cy="1797.6" r="9.2" stroke="none"/>
<circle cx="992.7" cy="1801.1" r="9.2" stroke="none"/>
<circle cx="1008.9" cy="1822.8" r="9.2" stroke="none"/>
<circle cx="1025.2" cy="1879.0" r="9.2" stroke="none"/>
<circle cx="1041.4" cy="1864.6" r="9.2" stroke="none"/>
<circle cx="1057.7" cy="1903.6" r="9.2" stroke="none"/>
<circle cx="1073.9" cy="1889.8" r="9.2" stroke="none"/>
<circle cx="1090.2" cy="1827.9" r="9.2" stroke="none"/>
<circle cx="1106.4" cy="1816.5" r="9.2" stroke="none"/>
<circle cx="1122.7" cy="1774.1" r="9.2" stroke="none"/>
<circle cx="1138.9" cy="1769.5" r="9.2" stroke="none"/>
<circle cx="1155.2" cy="1825.6" r="9.2" stroke="none"/>
<circle cx="1171.4" cy="1857.7" r="9.2" stroke="none"/>
<circle cx="1187.7" cy="1905.9" r="9.2" stroke="none"/>
<circle cx="1203.9" cy="1864.6" r="9.2" stroke="none"/>
<circle cx="1220.2" cy="1777.5" r="9.2" stroke="none"/>
<circle cx="1236.4" cy="1795.9" r="9.2" stroke="none"/>
<circle cx="1252.7" cy="1827.9" r="9.2" stroke="none"/>
<circle cx="1268.9" cy="1849.7" r="9.2" stroke="none"/>
<circle cx="1285.2" cy="1896.7" r="9.2" stroke="none"/>
<circle cx="1301.4" cy="1830.2" r="9.2" stroke="none"/>
<circle cx="1317.7" cy="1800.4" r="9.2" stroke="none"/>
<circle cx="1333.9" cy="1771.3" r="9.2" stroke="none"/>
<circle cx="1350.2" cy="1765.5" r="9.2" stroke="none"/>
<circle cx="1366.4" cy="1797.6" r="9.2" stroke="none"/>
<circle cx="1382.7" cy="1787.3" r="9.2" stroke="none"/>
<circle cx="1398.9" cy="1780.4" r="9.2" stroke="none"/>
<circle cx="1415.2" cy="1733.5" r="9.2" stroke="none"/>
<circle cx="1431.4" cy="1707.1" r="9.2" stroke="none"/>
<circle cx="1447.7" cy="1675.0" r="9.2" stroke="none"/>
<circle cx="1463.9" cy="1652.1" r="9.2" stroke="none"/>
<circle cx="1480.2" cy="1642.9" r="9.2" stroke="none"/>
<circle cx="1496.4" cy="1722.0" r="9.2" stroke="none"/>
<circle cx="1512.7" cy="1710.5" r="9.2" stroke="none"/>
<circle cx="1528.9" cy="1650.9" r="9.2" stroke="none"/>
<circle cx="1545.2" cy="1676.2" r="9.2" stroke="none"/>
<circle cx="1561.4" cy="1663.6" r="9.2" stroke="none"/>
<circle cx="1577.7" cy="1717.4" r="9.2" stroke="none"/>
<circle cx="1593.9" cy="1703.7" r="9.2" stroke="none"/>
<circle cx="1610.2" cy="1707.1" r="9.2" stroke="none"/>
<circle cx="1626.4" cy="1716.3" r="9.2" stroke="none"/>
<circle cx="1642.7" cy="1727.7" r="9.2" stroke="none"/>
<circle cx="1658.9" cy="1730.0" r="9.2" stroke="none"/>
<circle cx="1675.2" cy="1716.3" r="9.2" stroke="none"/>
<circle cx="1691.4" cy="1723.1" r="9.2" stroke="none"/>
<circle cx="1707.7" cy="1731.2" r="9.2" stroke="none"/>
<circle cx="1723.9" cy="1720.8" r="9.2" stroke="none"/>
<circle cx="1740.2" cy="1711.7" r="9.2" stroke="none"/>
<circle cx="1756.4" cy="1699.1" r="9.2" stroke="none"/>
<circle cx="1772.7" cy="1741.5" r="9.2" stroke="none"/>
<circle cx="1788.9" cy="1736.9" r="9.2" stroke="none"/>
<circle cx="1805.2" cy="1717.4" r="9.2" stroke="none"/>
<circle cx="1821.4" cy="1725.4" r="9.2" stroke="none"/>
<circle cx="1837.7" cy="1811.4" r="9.2" stroke="none"/>
<circle cx="1853.9" cy="1748.3" r="9.2" stroke="none"/>
<circle cx="1870.2" cy="1714.0" r="9.2" stroke="none"/>
</g>
<g stroke="#ff0000" fill="#ff0000">
<polyline fill="none" stroke-width="3.5" stroke-linejoin="round" points="196.4,1723.1 212.7,1740.3 228.9,1771.3 245.2,1749.5 261.4,1731.2 277.7,1709.4 293.9,1767.8 310.2,1843.5 326.4,1827.4 342.7,1818.3 358.9,1796.5 375.2,1804.5 391.4,1816.0 407.7,1796.5 423.9,1757.5 440.2,1825.1 456.4,1804.5 472.7,1903.0 488.9,1812.5 505.2,1814.8 521.4,1807.9 537.7,1807.9 553.9,1783.9 570.2,1691.1 586.4,1599.4 602.7,1693.3 618.9,1689.9 635.2,1668.1 651.4,1546.7 667.7,1561.6 683.9,1591.4 700.2,1522.6 716.4,1641.8 732.7,1673.9 748.9,1668.1 765.2,1646.4 781.4,1780.4 797.7,1629.2 813.9,1631.5 830.2,1653.2 846.4,1728.9 862.7,1762.1 878.9,1766.7 895.2,1739.2 911.4,1781.6 927.7,1796.5 943.9,1810.2 960.2,1817.1 976.4,1828.6 992.7,1827.4 1008.9,1726.6 1025.2,1803.4 1041.4,1896.7 1057.7,1940.2 1073.9,1904.7 1090.2,1863.5 1106.4,1832.5 1122.7,1783.2 1138.9,1850.9 1155.2,1939.1 1171.4,1871.5 1187.7,1882.9 1203.9,1844.0 1220.2,1846.3 1236.4,1802.7 1252.7,1847.4 1268.9,1919.6 1285.2,1903.6 1301.4,1866.9 1317.7,1790.7 1333.9,1798.8 1350.2,1872.1 1366.4,1856.1 1382.7,1807.9 1398.9,1796.5 1415.2,1740.3"/>
<polyline fill="none" stroke-width="3.5" stroke-linejoin="round" points="1512.7,1616.6 1528.9,1626.9 1545.2,1711.7 1561.4,1695.6 1577.7,1712.8 1593.9,1684.2 1610.2,1664.7 1626.4,1691.1 1642.7,1740.3 1658.9,1723.1 1675.2,1783.9 1691.4,1782.7 1707.7,1767.8 1723.9,1700.2 1740.2,1734.6 1756.4,1746.1 1772.7,1727.7 1788.9,1775.9 1805.2,1736.9 1821.4,1706.0 1837.7,1700.2 1853.9,1757.5 1870.2,1719.0"/>
<circle cx="196.4" cy="1723.1" r="9.2" stroke="none"/>
<circle cx="212.7" cy="1740.3" r="9.2" stroke="none"/>
<circle cx="228.9" cy="1771.3" r="9.2" stroke="none"/>
<circle cx="245.2" cy="1749.5" r="9.2" stroke="none"/>
<circle cx="261.4" cy="1731.2" r="9.2" stroke="none"/>
<circle cx="277.7" cy="1709.4" r="9.2" stroke="none"/>
<circle cx="293.9" cy="1767.8" r="9.2" stroke="none"/>
<circle cx="310.2" cy="1843.5" r="9.2" stroke="none"/>
<circle cx="326.4" cy="1827.4" r="9.2" stroke="none"/>
<circle cx="342.7" cy="1818.3" r="9.2" stroke="none"/>
<circle cx="358.9" cy="1796.5" r="9.2" stroke="none"/>
<circle cx="375.2" cy="1804.5" r="9.2" stroke="none"/>
<circle cx="391.4" cy="1816.0" r="9.2" stroke="none"/>
<circle cx="407.7" cy="1796.5" r="9.2" stroke="none"/>
<circle cx="423.9" cy="1757.5" r="9.2" stroke="none"/>
<circle cx="440.2" cy="1825.1" r="9.2" stroke="none"/>
<circle cx="456.4" cy="1804.5" r="9.2" stroke="none"/>
<circle cx="472.7" cy="1903.0" r="9.2" stroke="none"/>
<circle cx="488.9" cy="1812.5" r="9.2" stroke="none"/>
<circle cx="505.2" cy="1814.8" r="9.2" stroke="none"/>
<circle cx="521.4" cy="1807.9" r="9.2" stroke="none"/>
<circle cx="537.7" cy="1807.9" r="9.2" stroke="none"/>
<circle cx="553.9" cy="1783.9" r="9.2" stroke="none"/>
<circle cx="570.2" cy="1691.1" r="9.2" stroke="none"/>
<circle cx="586.4" cy="1599.4" r="9.2" stroke="none"/>
<circle cx="602.7" cy="1693.3" r="9.2" stroke="none"/>
<circle cx="618.9" cy="1689.9" r="9.2" stroke="none"/>
<circle cx="635.2" cy="1668.1" r="9.2" stroke="none"/>
<circle cx="651.4" cy="1546.7" r="9.2" stroke="none"/>
<circle cx="667.7" cy="1561.6" r="9.2" stroke="none"/>
<circle cx="683.9" cy="1591.4" r="9.2" stroke="none"/>
<circle cx="700.2" cy="1522.6" r="9.2" stroke="none"/>
<circle cx="716.4" cy="1641.8" r="9.2" stroke="none"/>
<circle cx="732.7" cy="1673.9" r="9.2" stroke="none"/>
<circle cx="748.9" cy="1668.1" r="9.2" stroke="none"/>
<circle cx="765.2" cy="1646.4" r="9.2" stroke="none"/>
<circle cx="781.4" cy="1780.4" r="9.2" stroke="none"/>
<circle cx="797.7" cy="1629.2" r="9.2" stroke="none"/>
<circle cx="813.9" cy="1631.5" r="9.2" stroke="none"/>
<circle cx="830.2" cy="1653.2" r="9.2" stroke="none"/>
<circle cx="846.4" cy="1728.9" r="9.2" stroke="none"/>
<circle cx="862.7" cy="1762.1" r="9.2" stroke="none"/>
<circle cx="878.9" cy="1766.7" r="9.2" stroke="none"/>
<circle cx="895.2" cy="1739.2" r="9.2" stroke="none"/>
<circle cx="911.4" cy="1781.6" r="9.2" stroke="none"/>
<circle cx="927.7" cy="1796.5" r="9.2" stroke="none"/>
<circle cx="943.9" cy="1810.2" r="9.2" stroke="none"/>
<circle cx="960.2" cy="1817.1" r="9.2" stroke="none"/>
<circle cx="976.4" cy="1828.6" r="9.2" stroke="none"/>
<circle cx="992.7" cy="1827.4" r="9.2" stroke="none"/>
<circle cx="1008.9" cy="1726.6" r="9.2" stroke="none"/>
<circle cx="1025.2" cy="1803.4" r="9.2" stroke="none"/>
<circle cx="1041.4" cy="1896.7" r="9.2" stroke="none"/>
<circle cx="1057.7" cy="1940.2" r="9.2" stroke="none"/>
<circle cx="1073.9" cy="1904.7" r="9.2" stroke="none"/>
<circle cx="1090.2" cy="1863.5" r="9.2" stroke="none"/>
<circle cx="1106.4" cy="1832.5" r="9.2" stroke="none"/>
<circle cx="1122.7" cy="1783.2" r="9.2" stroke="none"/>
<circle cx="1138.9" cy="1850.9" r="9.2" stroke="none"/>
<circle cx="1155.2" cy="1939.1" r="9.2" stroke="none"/>
<circle cx="1171.4" cy="1871.5" r="9.2" stroke="none"/>
<circle cx="1187.7" cy="1882.9" r="9.2" stroke="none"/>
<circle cx="1203.9" cy="1844.0" r="9.2" stroke="none"/>
<circle cx="1220.2" cy="1846.3" r="9.2" stroke="none"/>
<circle cx="1236.4" cy="1802.7" r="9.2" stroke="none"/>
<circle cx="1252.7" cy="1847.4" r="9.2" stroke="none"/>
<circle cx="1268.9" cy="1919.6" r="9.2" stroke="none"/>
<circle cx="1285.2" cy="1903.6" r="9.2" stroke="none"/>
<circle cx="1301.4" cy="1866.9" r="9.2" stroke="none"/>
<circle cx="1317.7" cy="1790.7" r="9.2" stroke="none"/>
<circle cx="1333.9" cy="1798.8" r="9.2" stroke="none"/>
<circle cx="1350.2" cy="1872.1" r="9.2" stroke="none"/>
<circle cx="1366.4" cy="1856.1" r="9.2" stroke="none"/>
<circle cx="1382.7" cy="1807.9" r="9.2" stroke="none"/>
<circle cx="1398.9" cy="1796.5" r="9.2" stroke="none"/>
<circle cx="1415.2" cy="1740.3" r="9.2" stroke="none"/>
<circle cx="1512.7" cy="1616.6" r="9.2" stroke="none"/>
<circle cx="1528.9" cy="1626.9" r="9.2" stroke="none"/>
<circle cx="1545.2" cy="1711.7" r="9.2" stroke="none"/>
<circle cx="1561.4" cy="1695.6" r="9.2" stroke="none"/>
<circle cx="1577.7" cy="1712.8" r="9.2" stroke="none"/>
<circle cx="1593.9" cy="1684.2" r="9.2" stroke="none"/>
<circle cx="1610.2" cy="1664.7" r="9.2" stroke="none"/>
<circle cx="1626.4" cy="1691.1" r="9.2" stroke="none"/>
<circle cx="1642.7" cy="1740.3" r="9.2" stroke="none"/>
<circle cx="1658.9" cy="1723.1" r="9.2" stroke="none"/>
<circle cx="1675.2" cy="1783.9" r="9.2" stroke="none"/>
<circle cx="1691.4" cy="1782.7" r="9.2" stroke="none"/>
<circle cx="1707.7" cy="1767.8" r="9.2" stroke="none"/>
<circle cx="1723.9" cy="1700.2" r="9.2" stroke="none"/>
<circle cx="1740.2" cy="1734.6" r="9.2" stroke="none"/>
<circle cx="1756.4" cy="1746.1" r="9.2" stroke="none"/>
<circle cx="1772.7" cy="1727.7" r="9.2" stroke="none"/>
<circle cx="1788.9" cy="1775.9" r="9.2" stroke="none"/>
<circle cx="1805.2" cy="1736.9" r="9.2" stroke="none"/>
<circle cx="1821.4" cy="1706.0" r="9.2" stroke="none"/>
<circle cx="1837.7" cy="1700.2" r="9.2" stroke="none"/>
<circle cx="1853.9" cy="1757.5" r="9.2" stroke="none"/>
<circle cx="1870.2" cy="1719.0" r="9.2" stroke="none"/>
</g>
<g stroke="#000000" fill="#000000">
<polyline fill="none" stroke-width="3.5" stroke-linejoin="round" points="196.4,1791.9 212.7,1801.1 228.9,1794.2 245.2,1807.9 261.4,1781.6 277.7,1779.3 293.9,1796.5 310.2,1788.5 326.4,1775.9 342.7,1801.1 358.9,1817.1 375.2,1816.0 391.4,1821.7 407.7,1830.9 423.9,1807.9 440.2,1805.6 456.4,1840.0 472.7,1829.7 488.9,1828.6 505.2,1818.3 521.4,1766.7 537.7,1780.4 553.9,1754.1 570.2,1706.0 586.4,1660.1 602.7,1670.4 618.9,1656.7 635.2,1636.1 651.4,1589.1 667.7,1591.4 683.9,1569.6 700.2,1566.1 716.4,1570.7 732.7,1592.5 748.9,1644.1 765.2,1620.0 781.4,1712.8 797.7,1653.2 813.9,1636.1 830.2,1647.5 846.4,1699.1 862.7,1763.2 878.9,1781.6 895.2,1785.0 911.4,1793.0 927.7,1781.6 943.9,1775.9 960.2,1777.0 976.4,1793.0 992.7,1788.5 1008.9,1807.9 1025.2,1828.6 1041.4,1894.4 1057.7,1958.6 1073.9,1900.1 1090.2,1873.8 1106.4,1837.1 1122.7,1791.3 1138.9,1776.4 1155.2,1830.2 1171.4,1904.7 1187.7,1920.8 1203.9,1884.1 1220.2,1860.0 1236.4,1850.9 1252.7,1907.0 1268.9,1892.1 1285.2,1881.8 1301.4,1841.7 1317.7,1812.5 1333.9,1807.9 1350.2,1809.1 1366.4,1811.4 1382.7,1812.5 1398.9,1824.0 1415.2,1799.9 1431.4,1726.6 1447.7,1692.2 1463.9,1670.4 1480.2,1607.4 1496.4,1559.3 1512.7,1587.9 1528.9,1576.5 1545.2,1598.2 1561.4,1670.4 1577.7,1696.8 1593.9,1691.1 1610.2,1717.4 1626.4,1730.0 1642.7,1718.6 1658.9,1711.7 1675.2,1712.8 1691.4,1696.8 1707.7,1707.1 1723.9,1709.4 1740.2,1708.2 1756.4,1728.9 1772.7,1752.9 1788.9,1748.3 1805.2,1739.2 1821.4,1733.5 1837.7,1733.5 1853.9,1746.1 1870.2,1755.2"/>
<circle cx="196.4" cy="1791.9" r="9.2" stroke="none"/>
<circle cx="212.7" cy="1801.1" r="9.2" stroke="none"/>
<circle cx="228.9" cy="1794.2" r="9.2" stroke="none"/>
<circle cx="245.2" cy="1807.9" r="9.2" stroke="none"/>
<circle cx="261.4" cy="1781.6" r="9.2" stroke="none"/>
<circle cx="277.7" cy="1779.3" r="9.2" stroke="none"/>
<circle cx="293.9" cy="1796.5" r="9.2" stroke="none"/>
<circle cx="310.2" cy="1788.5" r="9.2" stroke="none"/>
<circle cx="326.4" cy="1775.9" r="9.2" stroke="none"/>
<circle cx="342.7" cy="1801.1" r="9.2" stroke="none"/>
<circle cx="358.9" cy="1817.1" r="9.2" stroke="none"/>
<circle cx="375.2" cy="1816.0" r="9.2" stroke="none"/>
<circle cx="391.4" cy="1821.7" r="9.2" stroke="none"/>
<circle cx="407.7" cy="1830.9" r="9.2" stroke="none"/>
<circle cx="423.9" cy="1807.9" r="9.2" stroke="none"/>
<circle cx="440.2" cy="1805.6" r="9.2" stroke="none"/>
<circle cx="456.4" cy="1840.0" r="9.2" stroke="none"/>
<circle cx="472.7" cy="1829.7" r="9.2" stroke="none"/>
<circle cx="488.9" cy="1828.6" r="9.2" stroke="none"/>
<circle cx="505.2" cy="1818.3" r="9.2" stroke="none"/>
<circle cx="521.4" cy="1766.7" r="9.2" stroke="none"/>
<circle cx="537.7" cy="1780.4" r="9.2" stroke="none"/>
<circle cx="553.9" cy="1754.1" r="9.2" stroke="none"/>
<circle cx="570.2" cy="1706.0" r="9.2" stroke="none"/>
<circle cx="586.4" cy="1660.1" r="9.2" stroke="none"/>
<circle cx="602.7" cy="1670.4" r="9.2" stroke="none"/>
<circle cx="618.9" cy="1656.7" r="9.2" stroke="none"/>
<circle cx="635.2" cy="1636.1" r="9.2" stroke="none"/>
<circle cx="651.4" cy="1589.1" r="9.2" stroke="none"/>
<circle cx="667.7" cy="1591.4" r="9.2" stroke="none"/>
<circle cx="683.9" cy="1569.6" r="9.2" stroke="none"/>
<circle cx="700.2" cy="1566.1" r="9.2" stroke="none"/>
<circle cx="716.4" cy="1570.7" r="9.2" stroke="none"/>
<circle cx="732.7" cy="1592.5" r="9.2" stroke="none"/>
<circle cx="748.9" cy="1644.1" r="9.2" stroke="none"/>
<circle cx="765.2" cy="1620.0" r="9.2" stroke="none"/>
<circle cx="781.4" cy="1712.8" r="9.2" stroke="none"/>
<circle cx="797.7" cy="1653.2" r="9.2" stroke="none"/>
<circle cx="813.9" cy="1636.1" r="9.2" stroke="none"/>
<circle cx="830.2" cy="1647.5" r="9.2" stroke="none"/>
<circle cx="846.4" cy="1699.1" r="9.2" stroke="none"/>
<circle cx="862.7" cy="1763.2" r="9.2" stroke="none"/>
<circle cx="878.9" cy="1781.6" r="9.2" stroke="none"/>
<circle cx="895.2" cy="1785.0" r="9.2" stroke="none"/>
<circle cx="911.4" cy="1793.0" r="9.2" stroke="none"/>
<circle cx="927.7" cy="1781.6" r="9.2" stroke="none"/>
<circle cx="943.9" cy="1775.9" r="9.2" stroke="none"/>
<circle cx="960.2" cy="1777.0" r="9.2" stroke="none"/>
<circle cx="976.4" cy="1793.0" r="9.2" stroke="none"/>
<circle cx="992.7" cy="1788.5" r="9.2" stroke="none"/>
<circle cx="1008.9" cy="1807.9" r="9.2" stroke="none"/>
<circle cx="1025.2" cy="1828.6" r="9.2" stroke="none"/>
<circle cx="1041.4" cy="1894.4" r="9.2" stroke="none"/>
<circle cx="1057.7" cy="1958.6" r="9.2" stroke="none"/>
<circle cx="1073.9" cy="1900.1" r="9.2" stroke="none"/>
<circle cx="1090.2" cy="1873.8" r="9.2" stroke="none"/>
<circle cx="1106.4" cy="1837.1" r="9.2" stroke="none"/>
<circle cx="1122.7" cy="1791.3" r="9.2" stroke="none"/>
<circle cx="1138.9" cy="1776.4" r="9.2" stroke="none"/>
<circle cx="1155.2" cy="1830.2" r="9.2" stroke="none"/>
<circle cx="1171.4" cy="1904.7" r="9.2" stroke="none"/>
<circle cx="1187.7" cy="1920.8" r="9.2" stroke="none"/>
<circle cx="1203.9" cy="1884.1" r="9.2" stroke="none"/>
<circle cx="1220.2" cy="1860.0" r="9.2" stroke="none"/>
<circle cx="1236.4" cy="1850.9" r="9.2" stroke="none"/>
<circle cx="1252.7" cy="1907.0" r="9.2" stroke="none"/>
<circle cx="1268.9" cy="1892.1" r="9.2" stroke="none"/>
<circle cx="1285.2" cy="1881.8" r="9.2" stroke="none"/>
<circle cx="1301.4" cy="1841.7" r="9.2" stroke="none"/>
<circle cx="1317.7" cy="1812.5" r="9.2" stroke="none"/>
<circle cx="1333.9" cy="1807.9" r="9.2" stroke="none"/>
<circle cx="1350.2" cy="1809.1" r="9.2" stroke="none"/>
<circle cx="1366.4" cy="1811.4" r="9.2" stroke="none"/>
<circle cx="1382.7" cy="1812.5" r="9.2" stroke="none"/>
<circle cx="1398.9" cy="1824.0" r="9.2" stroke="none"/>
<circle cx="1415.2" cy="1799.9" r="9.2" stroke="none"/>
<circle cx="1431.4" cy="1726.6" r="9.2" stroke="none"/>
<circle cx="1447.7" cy="1692.2" r="9.2" stroke="none"/>
<circle cx="1463.9" cy="1670.4" r="9.2" stroke="none"/>
<circle cx="1480.2" cy="1607.4" r="9.2" stroke="none"/>
<circle cx="1496.4" cy="1559.3" r="9.2" stroke="none"/>
<circle cx="1512.7" cy="1587.9" r="9.2" stroke="none"/>
<circle cx="1528.9" cy="1576.5" r="9.2" stroke="none"/>
<circle cx="1545.2" cy="1598.2" r="9.2" stroke="none"/>
<circle cx="1561.4" cy="1670.4" r="9.2" stroke="none"/>
<circle cx="1577.7" cy="1696.8" r="9.2" stroke="none"/>
<circle cx="1593.9" cy="1691.1" r="9.2" stroke="none"/>
<circle cx="1610.2" cy="1717.4" r="9.2" stroke="none"/>
<circle cx="1626.4" cy="1730.0" r="9.2" stroke="none"/>
<circle cx="1642.7" cy="1718.6" r="9.2" stroke="none"/>
<circle cx="1658.9" cy="1711.7" r="9.2" stroke="none"/>
<circle cx="1675.2" cy="1712.8" r="9.2" stroke="none"/>
<circle cx="1691.4" cy="1696.8" r="9.2" stroke="none"/>
<circle cx="1707.7" cy="1707.1" r="9.2" stroke="none"/>
<circle cx="1723.9" cy="1709.4" r="9.2" stroke="none"/>
<circle cx="1740.2" cy="1708.2" r="9.2" stroke="none"/>
<circle cx="1756.4" cy="1728.9" r="9.2" stroke="none"/>
<circle cx="1772.7" cy="1752.9" r="9.2" stroke="none"/>
<circle cx="1788.9" cy="1748.3" r="9.2" stroke="none"/>
<circle cx="1805.2" cy="1739.2" r="9.2" stroke="none"/>
<circle cx="1821.4" cy="1733.5" r="9.2" stroke="none"/>
<circle cx="1837.7" cy="1733.5" r="9.2" stroke="none"/>
<circle cx="1853.9" cy="1746.1" r="9.2" stroke="none"/>
<circle cx="1870.2" cy="1755.2" r="9.2" stroke="none"/>
</g>
<g stroke="#00ff00" fill="#00ff00">
<polyline fill="none" stroke-width="3.5" stroke-linejoin="round" points="196.4,1797.6 269.2,1803.4 341.9,1824.0 414.7,1828.6 487.5,1813.7 560.3,1728.9 633.0,1615.4 705.8,1563.9 778.6,1652.1 851.4,1712.8 924.1,1769.0 996.9,1833.1 1069.7,1815.3 1142.5,1833.7 1215.2,1842.8 1288.0,1871.5 1360.8,1862.9 1433.6,1761.0 1506.3,1653.2 1579.1,1654.4 1651.9,1696.8 1724.7,1716.3 1797.4,1733.5 1870.2,1739.2"/>
<circle cx="196.4" cy="1797.6" r="9.2" stroke="none"/>
<circle cx="269.2" cy="1803.4" r="9.2" stroke="none"/>
<circle cx="341.9" cy="1824.0" r="9.2" stroke="none"/>
<circle cx="414.7" cy="1828.6" r="9.2" stroke="none"/>
<circle cx="487.5" cy="1813.7" r="9.2" stroke="none"/>
<circle cx="560.3" cy="1728.9" r="9.2" stroke="none"/>
<circle cx="633.0" cy="1615.4" r="9.2" stroke="none"/>
<circle cx="705.8" cy="1563.9" r="9.2" stroke="none"/>
<circle cx="778.6" cy="1652.1" r="9.2" stroke="none"/>
<circle cx="851.4" cy="1712.8" r="9.2" stroke="none"/>
<circle cx="924.1" cy="1769.0" r="9.2" stroke="none"/>
<circle cx="996.9" cy="1833.1" r="9.2" stroke="none"/>
<circle cx="1069.7" cy="1815.3" r="9.2" stroke="none"/>
<circle cx="1142.5" cy="1833.7" r="9.2" stroke="none"/>
<circle cx="1215.2" cy="1842.8" r="9.2" stroke="none"/>
<circle cx="1288.0" cy="1871.5" r="9.2" stroke="none"/>
<circle cx="1360.8" cy="1862.9" r="9.2" stroke="none"/>
<circle cx="1433.6" cy="1761.0" r="9.2" stroke="none"/>
<circle cx="1506.3" cy="1653.2" r="9.2" stroke="none"/>
<circle cx="1579.1" cy="1654.4" r="9.2" stroke="none"/>
<circle cx="1651.9" cy="1696.8" r="9.2" stroke="none"/>
<circle cx="1724.7" cy="1716.3" r="9.2" stroke="none"/>
<circle cx="1797.4" cy="1733.5" r="9.2" stroke="none"/>
<circle cx="1870.2" cy="1739.2" r="9.2" stroke="none"/>
</g>
<g stroke="#00ffff" fill="#00ffff">
<polyline fill="none" stroke-width="3.5" stroke-linejoin="round" points="196.4,1781.6 269.2,1818.3 341.9,1825.1 414.7,1828.6 487.5,1838.2 560.3,1675.0 633.0,1602.8 705.8,1534.1 778.6,1620.0 851.4,1727.7 924.1,1788.5 996.9,1813.7 1069.7,1825.6 1142.5,1865.8 1215.2,1853.1 1288.0,1871.5 1360.8,1872.1 1433.6,1715.1 1506.3,1610.8 1579.1,1624.6 1651.9,1681.9 1724.7,1707.1 1797.4,1749.5 1870.2,1736.4"/>
<circle cx="196.4" cy="1781.6" r="9.2" stroke="none"/>
<circle cx="269.2" cy="1818.3" r="9.2" stroke="none"/>
<circle cx="341.9" cy="1825.1" r="9.2" stroke="none"/>
<circle cx="414.7" cy="1828.6" r="9.2" stroke="none"/>
<circle cx="487.5" cy="1838.2" r="9.2" stroke="none"/>
<circle cx="560.3" cy="1675.0" r="9.2" stroke="none"/>
<circle cx="633.0" cy="1602.8" r="9.2" stroke="none"/>
<circle cx="705.8" cy="1534.1" r="9.2" stroke="none"/>
<circle cx="778.6" cy="1620.0" r="9.2" stroke="none"/>
<circle cx="851.4" cy="1727.7" r="9.2" stroke="none"/>
<circle cx="924.1" cy="1788.5" r="9.2" stroke="none"/>
<circle cx="996.9" cy="1813.7" r="9.2" stroke="none"/>
<circle cx="1069.7" cy="1825.6" r="9.2" stroke="none"/>
<circle cx="1142.5" cy="1865.8" r="9.2" stroke="none"/>
<circle cx="1215.2" cy="1853.1" r="9.2" stroke="none"/>
<circle cx="1288.0" cy="1871.5" r="9.2" stroke="none"/>
<circle cx="1360.8" cy="1872.1" r="9.2" stroke="none"/>
<circle cx="1433.6" cy="1715.1" r="9.2" stroke="none"/>
<circle cx="1506.3" cy="1610.8" r="9.2" stroke="none"/>
<circle cx="1579.1" cy="1624.6" r="9.2" stroke="none"/>
<circle cx="1651.9" cy="1681.9" r="9.2" stroke="none"/>
<circle cx="1724.7" cy="1707.1" r="9.2" stroke="none"/>
<circle cx="1797.4" cy="1749.5" r="9.2" stroke="none"/>
<circle cx="1870.2" cy="1736.4" r="9.2" stroke="none"/>
</g>
</g>
<text class="t" transform="translate(197.2 2398.5) scale(0.968 1)" text-anchor="middle">J</text>
<text class="t" transform="translate(347.7 2398.5) scale(0.968 1)" text-anchor="middle">M</text>
<text class="t" transform="translate(500.0 2398.5) scale(0.968 1)" text-anchor="middle">M</text>
<text class="t" transform="translate(652.2 2398.5) scale(0.968 1)" text-anchor="middle">J</text>
<text class="t" transform="translate(804.5 2398.5) scale(0.968 1)" text-anchor="middle">S</text>
<text class="t" transform="translate(956.7 2398.5) scale(0.968 1)" text-anchor="middle">N</text>
<text class="t" transform="translate(1109.0 2398.5) scale(0.968 1)" text-anchor="middle">J</text>
<text class="t" transform="translate(1261.2 2398.5) scale(0.968 1)" text-anchor="middle">M</text>
<text class="t" transform="translate(1413.5 2398.5) scale(0.968 1)" text-anchor="middle">M</text>
<text class="t" transform="translate(1565.7 2398.5) scale(0.968 1)" text-anchor="middle">J</text>
<text class="t" transform="translate(1718.0 2398.5) scale(0.968 1)" text-anchor="middle">S</text>
<text class="t" transform="translate(1870.2 2398.5) scale(0.968 1)" text-anchor="middle">N</text>
<text class="t" transform="translate(171.7 1426.5) scale(0.968 1)" text-anchor="end">36</text>
<text class="t" transform="translate(171.7 1654.6) scale(0.968 1)" text-anchor="end">35</text>
<text class="t" transform="translate(171.7 1882.8) scale(0.968 1)" text-anchor="end">34</text>
<text class="t" transform="translate(171.7 2110.9) scale(0.968 1)" text-anchor="end">33</text>
<text class="t" transform="translate(171.7 2339.0) scale(0.968 1)" text-anchor="end">32</text>
<text class="yl" xml:space="preserve" transform="translate(81 1859.2) rotate(-90)" text-anchor="middle">SSS  (PSU)</text>
<text class="ti" transform="translate(697.0 1357.5) scale(0.9435 1)">(b) RAMA, 8S80E</text>
<rect x="635.0" y="1997.3" width="1235.2" height="320.5" fill="#ffffff" stroke="#3c3c3c" stroke-width="3.2"/>
<path d="M650.8 2035.5H807.0" stroke="#000000" stroke-width="3.3"/>
<circle cx="728.8" cy="2035.5" r="9.3" fill="#000000"/>
<text class="l" x="820.8" y="2053.3">Buoy</text>
<text class="l" x="988.0" y="2053.3">N=96</text>
<path d="M650.8 2097.2H807.0" stroke="#0000ff" stroke-width="3.3"/>
<circle cx="728.8" cy="2097.2" r="9.3" fill="#0000ff"/>
<text class="l" x="820.8" y="2115.1">SMOS</text>
<text class="l" x="989.0" y="2115.1">Bias=-0.04,</text>
<text class="l" x="1261.5" y="2115.1">RMSD=0.25,</text>
<text class="l" x="1567.0" y="2115.1">Corr=0.86</text>
<path d="M650.8 2159.0H807.0" stroke="#ff0000" stroke-width="3.3"/>
<circle cx="728.8" cy="2159.0" r="9.3" fill="#ff0000"/>
<text class="l" x="820.8" y="2176.8">SMAP</text>
<text class="l" x="989.0" y="2176.8">Bias=-0.09,</text>
<text class="l" x="1261.5" y="2176.8">RMSD=0.18,</text>
<text class="l" x="1567.0" y="2176.8">Corr=0.95</text>
<path d="M650.8 2220.8H807.0" stroke="#00ff00" stroke-width="3.3"/>
<circle cx="728.8" cy="2220.8" r="9.3" fill="#00ff00"/>
<text class="l" x="820.8" y="2238.6">ISAS</text>
<text class="l" x="960.8" y="2238.6">Bias=-0.06,</text>
<text class="l" x="1231.7" y="2238.6">RMSD=0.19,</text>
<text class="l" x="1537.7" y="2238.6">Corr=0.92</text>
<path d="M650.8 2282.5H807.0" stroke="#00ffff" stroke-width="3.3"/>
<circle cx="728.8" cy="2282.5" r="9.3" fill="#00ffff"/>
<text class="l" x="821.5" y="2300.3">WODSSS</text>
<text class="l" x="1060.3" y="2300.3">Bias=-0.09,</text>
<text class="l" x="1330.5" y="2300.3">RMSD=0.24,</text>
<text class="l" x="1637.6" y="2300.3">Corr=0.92</text>
<g stroke="#3c3c3c" stroke-width="3.2" fill="none" stroke-linecap="butt">
<rect x="197.2" y="2658.7" width="1673.0" height="913.8"/>
<path d="M347.7 3572.5v-16.5M347.7 2658.7v16.5"/>
<path d="M500.0 3572.5v-16.5M500.0 2658.7v16.5"/>
<path d="M652.2 3572.5v-16.5M652.2 2658.7v16.5"/>
<path d="M804.5 3572.5v-16.5M804.5 2658.7v16.5"/>
<path d="M956.7 3572.5v-16.5M956.7 2658.7v16.5"/>
<path d="M1109.0 3572.5v-16.5M1109.0 2658.7v16.5"/>
<path d="M1261.2 3572.5v-16.5M1261.2 2658.7v16.5"/>
<path d="M1413.5 3572.5v-16.5M1413.5 2658.7v16.5"/>
<path d="M1565.7 3572.5v-16.5M1565.7 2658.7v16.5"/>
<path d="M1718.0 3572.5v-16.5M1718.0 2658.7v16.5"/>
<path d="M197.2 2790.0h16.5M1870.2 2790.0h-16.5"/>
<path d="M197.2 3050.8h16.5M1870.2 3050.8h-16.5"/>
<path d="M197.2 3311.7h16.5M1870.2 3311.7h-16.5"/>
</g>
<clipPath id="cc"><rect x="185.2" y="2658.7" width="1697.0" height="913.8"/></clipPath>
<g clip-path="url(#cc)">
<g stroke="#0000ff" fill="#0000ff">
<polyline fill="none" stroke-width="3.5" stroke-linejoin="round" points="196.4,2914.4 212.7,2946.5 228.9,2955.6 245.2,2935.0 261.4,2919.0 277.7,2930.4 293.9,2951.1 310.2,2915.5 326.4,2921.3 342.7,2968.2 358.9,2970.5 375.2,2986.6 391.4,3016.4 407.7,3000.3 423.9,3037.0 440.2,2979.7 456.4,2976.3 472.7,3042.7 488.9,3073.7 505.2,3105.8 521.4,3106.9 537.7,3053.0 553.9,3022.1 570.2,2991.2 586.4,2945.3 602.7,2996.9 618.9,2952.2 635.2,2922.4 651.4,2904.1 667.7,2883.4 683.9,2900.6 700.2,2905.2 716.4,2907.5 732.7,2928.1 748.9,2916.7 765.2,2944.2 781.4,3021.0 797.7,2969.4 813.9,2912.1 830.2,3008.3 846.4,3006.1 862.7,2990.0 878.9,2990.0 895.2,2984.3 911.4,2944.2 927.7,2938.4 943.9,2983.1 960.2,3012.9 976.4,2910.9 992.7,2919.0 1008.9,2924.7 1025.2,2935.0 1041.4,2919.0 1057.7,2912.1 1073.9,2923.6 1090.2,2936.2 1106.4,2898.3 1122.7,2912.1 1138.9,2867.4 1155.2,2855.9 1171.4,2885.7 1187.7,2899.5 1203.9,2964.8 1220.2,2967.1 1236.4,2896.1 1252.7,2960.2 1268.9,2909.8 1285.2,2951.1 1301.4,3012.9 1317.7,3015.2 1333.9,3029.0 1350.2,3037.0 1366.4,3072.5 1382.7,3053.0 1398.9,3063.4 1415.2,2982.0 1431.4,2990.0 1447.7,2975.1 1463.9,2955.6 1480.2,2936.2 1496.4,2917.8 1512.7,2888.0 1528.9,2916.7 1545.2,2899.5 1561.4,2910.9 1577.7,2877.7 1593.9,2894.9 1610.2,2935.0 1626.4,2944.2 1642.7,2946.5 1658.9,2948.8 1675.2,3014.1 1691.4,3057.6 1707.7,3086.3 1723.9,3019.8 1740.2,2996.9 1756.4,2920.1 1772.7,2905.2 1788.9,2990.0 1805.2,2960.2 1821.4,2999.2 1837.7,2954.5 1853.9,2944.2 1870.2,2944.2"/>
<circle cx="196.4" cy="2914.4" r="9.2" stroke="none"/>
<circle cx="212.7" cy="2946.5" r="9.2" stroke="none"/>
<circle cx="228.9" cy="2955.6" r="9.2" stroke="none"/>
<circle cx="245.2" cy="2935.0" r="9.2" stroke="none"/>
<circle cx="261.4" cy="2919.0" r="9.2" stroke="none"/>
<circle cx="277.7" cy="2930.4" r="9.2" stroke="none"/>
<circle cx="293.9" cy="2951.1" r="9.2" stroke="none"/>
<circle cx="310.2" cy="2915.5" r="9.2" stroke="none"/>
<circle cx="326.4" cy="2921.3" r="9.2" stroke="none"/>
<circle cx="342.7" cy="2968.2" r="9.2" stroke="none"/>
<circle cx="358.9" cy="2970.5" r="9.2" stroke="none"/>
<circle cx="375.2" cy="2986.6" r="9.2" stroke="none"/>
<circle cx="391.4" cy="3016.4" r="9.2" stroke="none"/>
<circle cx="407.7" cy="3000.3" r="9.2" stroke="none"/>
<circle cx="423.9" cy="3037.0" r="9.2" stroke="none"/>
<circle cx="440.2" cy="2979.7" r="9.2" stroke="none"/>
<circle cx="456.4" cy="2976.3" r="9.2" stroke="none"/>
<circle cx="472.7" cy="3042.7" r="9.2" stroke="none"/>
<circle cx="488.9" cy="3073.7" r="9.2" stroke="none"/>
<circle cx="505.2" cy="3105.8" r="9.2" stroke="none"/>
<circle cx="521.4" cy="3106.9" r="9.2" stroke="none"/>
<circle cx="537.7" cy="3053.0" r="9.2" stroke="none"/>
<circle cx="553.9" cy="3022.1" r="9.2" stroke="none"/>
<circle cx="570.2" cy="2991.2" r="9.2" stroke="none"/>
<circle cx="586.4" cy="2945.3" r="9.2" stroke="none"/>
<circle cx="602.7" cy="2996.9" r="9.2" stroke="none"/>
<circle cx="618.9" cy="2952.2" r="9.2" stroke="none"/>
<circle cx="635.2" cy="2922.4" r="9.2" stroke="none"/>
<circle cx="651.4" cy="2904.1" r="9.2" stroke="none"/>
<circle cx="667.7" cy="2883.4" r="9.2" stroke="none"/>
<circle cx="683.9" cy="2900.6" r="9.2" stroke="none"/>
<circle cx="700.2" cy="2905.2" r="9.2" stroke="none"/>
<circle cx="716.4" cy="2907.5" r="9.2" stroke="none"/>
<circle cx="732.7" cy="2928.1" r="9.2" stroke="none"/>
<circle cx="748.9" cy="2916.7" r="9.2" stroke="none"/>
<circle cx="765.2" cy="2944.2" r="9.2" stroke="none"/>
<circle cx="781.4" cy="3021.0" r="9.2" stroke="none"/>
<circle cx="797.7" cy="2969.4" r="9.2" stroke="none"/>
<circle cx="813.9" cy="2912.1" r="9.2" stroke="none"/>
<circle cx="830.2" cy="3008.3" r="9.2" stroke="none"/>
<circle cx="846.4" cy="3006.1" r="9.2" stroke="none"/>
<circle cx="862.7" cy="2990.0" r="9.2" stroke="none"/>
<circle cx="878.9" cy="2990.0" r="9.2" stroke="none"/>
<circle cx="895.2" cy="2984.3" r="9.2" stroke="none"/>
<circle cx="911.4" cy="2944.2" r="9.2" stroke="none"/>
<circle cx="927.7" cy="2938.4" r="9.2" stroke="none"/>
<circle cx="943.9" cy="2983.1" r="9.2" stroke="none"/>
<circle cx="960.2" cy="3012.9" r="9.2" stroke="none"/>
<circle cx="976.4" cy="2910.9" r="9.2" stroke="none"/>
<circle cx="992.7" cy="2919.0" r="9.2" stroke="none"/>
<circle cx="1008.9" cy="2924.7" r="9.2" stroke="none"/>
<circle cx="1025.2" cy="2935.0" r="9.2" stroke="none"/>
<circle cx="1041.4" cy="2919.0" r="9.2" stroke="none"/>
<circle cx="1057.7" cy="2912.1" r="9.2" stroke="none"/>
<circle cx="1073.9" cy="2923.6" r="9.2" stroke="none"/>
<circle cx="1090.2" cy="2936.2" r="9.2" stroke="none"/>
<circle cx="1106.4" cy="2898.3" r="9.2" stroke="none"/>
<circle cx="1122.7" cy="2912.1" r="9.2" stroke="none"/>
<circle cx="1138.9" cy="2867.4" r="9.2" stroke="none"/>
<circle cx="1155.2" cy="2855.9" r="9.2" stroke="none"/>
<circle cx="1171.4" cy="2885.7" r="9.2" stroke="none"/>
<circle cx="1187.7" cy="2899.5" r="9.2" stroke="none"/>
<circle cx="1203.9" cy="2964.8" r="9.2" stroke="none"/>
<circle cx="1220.2" cy="2967.1" r="9.2" stroke="none"/>
<circle cx="1236.4" cy="2896.1" r="9.2" stroke="none"/>
<circle cx="1252.7" cy="2960.2" r="9.2" stroke="none"/>
<circle cx="1268.9" cy="2909.8" r="9.2" stroke="none"/>
<circle cx="1285.2" cy="2951.1" r="9.2" stroke="none"/>
<circle cx="1301.4" cy="3012.9" r="9.2" stroke="none"/>
<circle cx="1317.7" cy="3015.2" r="9.2" stroke="none"/>
<circle cx="1333.9" cy="3029.0" r="9.2" stroke="none"/>
<circle cx="1350.2" cy="3037.0" r="9.2" stroke="none"/>
<circle cx="1366.4" cy="3072.5" r="9.2" stroke="none"/>
<circle cx="1382.7" cy="3053.0" r="9.2" stroke="none"/>
<circle cx="1398.9" cy="3063.4" r="9.2" stroke="none"/>
<circle cx="1415.2" cy="2982.0" r="9.2" stroke="none"/>
<circle cx="1431.4" cy="2990.0" r="9.2" stroke="none"/>
<circle cx="1447.7" cy="2975.1" r="9.2" stroke="none"/>
<circle cx="1463.9" cy="2955.6" r="9.2" stroke="none"/>
<circle cx="1480.2" cy="2936.2" r="9.2" stroke="none"/>
<circle cx="1496.4" cy="2917.8" r="9.2" stroke="none"/>
<circle cx="1512.7" cy="2888.0" r="9.2" stroke="none"/>
<circle cx="1528.9" cy="2916.7" r="9.2" stroke="none"/>
<circle cx="1545.2" cy="2899.5" r="9.2" stroke="none"/>
<circle cx="1561.4" cy="2910.9" r="9.2" stroke="none"/>
<circle cx="1577.7" cy="2877.7" r="9.2" stroke="none"/>
<circle cx="1593.9" cy="2894.9" r="9.2" stroke="none"/>
<circle cx="1610.2" cy="2935.0" r="9.2" stroke="none"/>
<circle cx="1626.4" cy="2944.2" r="9.2" stroke="none"/>
<circle cx="1642.7" cy="2946.5" r="9.2" stroke="none"/>
<circle cx="1658.9" cy="2948.8" r="9.2" stroke="none"/>
<circle cx="1675.2" cy="3014.1" r="9.2" stroke="none"/>
<circle cx="1691.4" cy="3057.6" r="9.2" stroke="none"/>
<circle cx="1707.7" cy="3086.3" r="9.2" stroke="none"/>
<circle cx="1723.9" cy="3019.8" r="9.2" stroke="none"/>
<circle cx="1740.2" cy="2996.9" r="9.2" stroke="none"/>
<circle cx="1756.4" cy="2920.1" r="9.2" stroke="none"/>
<circle cx="1772.7" cy="2905.2" r="9.2" stroke="none"/>
<circle cx="1788.9" cy="2990.0" r="9.2" stroke="none"/>
<circle cx="1805.2" cy="2960.2" r="9.2" stroke="none"/>
<circle cx="1821.4" cy="2999.2" r="9.2" stroke="none"/>
<circle cx="1837.7" cy="2954.5" r="9.2" stroke="none"/>
<circle cx="1853.9" cy="2944.2" r="9.2" stroke="none"/>
<circle cx="1870.2" cy="2944.2" r="9.2" stroke="none"/>
</g>
<g stroke="#ff0000" fill="#ff0000">
<polyline fill="none" stroke-width="3.5" stroke-linejoin="round" points="196.4,2930.4 212.7,2913.2 228.9,2886.9 245.2,2901.8 261.4,2940.7 277.7,2947.6 293.9,3030.1 310.2,2851.4 326.4,2861.7 342.7,2906.4 358.9,2947.6 375.2,2969.4 391.4,2985.4 407.7,2990.0 423.9,2962.5 440.2,3066.8 456.4,3039.3 472.7,3047.3 488.9,3159.6 505.2,3148.2 521.4,3268.5 537.7,3183.7 553.9,3029.0 570.2,3008.3 586.4,3049.6 602.7,3026.7 618.9,3024.4 635.2,2999.2 651.4,2984.3 667.7,2894.9 683.9,2866.3 700.2,2819.3 716.4,2908.7 732.7,2888.0 748.9,2953.3 765.2,2916.7 781.4,2829.6 797.7,2905.2 813.9,2940.7 830.2,2987.7 846.4,3017.5 862.7,3067.9 878.9,3131.0 895.2,2996.9 911.4,2933.9 927.7,2948.8 943.9,3009.5 960.2,3149.3 976.4,2979.7 992.7,3017.5 1008.9,2833.0 1025.2,2868.5 1041.4,2889.2 1057.7,2921.3 1073.9,2920.1 1090.2,2800.9 1106.4,2862.8 1122.7,2875.4 1138.9,2835.3 1155.2,2823.9 1171.4,2826.1 1187.7,2868.5 1203.9,2849.1 1220.2,2889.2 1236.4,2984.3 1252.7,2933.9 1268.9,2875.4 1285.2,2951.1 1301.4,3015.2 1317.7,3008.3 1333.9,3053.0 1350.2,3205.4 1366.4,3181.4 1382.7,3194.0 1398.9,3165.3 1415.2,3056.5"/>
<polyline fill="none" stroke-width="3.5" stroke-linejoin="round" points="1512.7,2852.5 1528.9,2877.7 1545.2,2849.1 1561.4,2828.4 1577.7,2919.0 1593.9,2898.3 1610.2,2860.5 1626.4,2858.2 1642.7,2916.7 1658.9,2913.2 1675.2,3008.3 1691.4,3034.7 1707.7,3118.4 1723.9,3169.9 1740.2,3120.6 1756.4,3070.2 1772.7,3055.3 1788.9,2979.7 1805.2,2974.0 1821.4,2975.1 1837.7,2964.8 1853.9,2933.9 1870.2,2946.5"/>
<circle cx="196.4" cy="2930.4" r="9.2" stroke="none"/>
<circle cx="212.7" cy="2913.2" r="9.2" stroke="none"/>
<circle cx="228.9" cy="2886.9" r="9.2" stroke="none"/>
<circle cx="245.2" cy="2901.8" r="9.2" stroke="none"/>
<circle cx="261.4" cy="2940.7" r="9.2" stroke="none"/>
<circle cx="277.7" cy="2947.6" r="9.2" stroke="none"/>
<circle cx="293.9" cy="3030.1" r="9.2" stroke="none"/>
<circle cx="310.2" cy="2851.4" r="9.2" stroke="none"/>
<circle cx="326.4" cy="2861.7" r="9.2" stroke="none"/>
<circle cx="342.7" cy="2906.4" r="9.2" stroke="none"/>
<circle cx="358.9" cy="2947.6" r="9.2" stroke="none"/>
<circle cx="375.2" cy="2969.4" r="9.2" stroke="none"/>
<circle cx="391.4" cy="2985.4" r="9.2" stroke="none"/>
<circle cx="407.7" cy="2990.0" r="9.2" stroke="none"/>
<circle cx="423.9" cy="2962.5" r="9.2" stroke="none"/>
<circle cx="440.2" cy="3066.8" r="9.2" stroke="none"/>
<circle cx="456.4" cy="3039.3" r="9.2" stroke="none"/>
<circle cx="472.7" cy="3047.3" r="9.2" stroke="none"/>
<circle cx="488.9" cy="3159.6" r="9.2" stroke="none"/>
<circle cx="505.2" cy="3148.2" r="9.2" stroke="none"/>
<circle cx="521.4" cy="3268.5" r="9.2" stroke="none"/>
<circle cx="537.7" cy="3183.7" r="9.2" stroke="none"/>
<circle cx="553.9" cy="3029.0" r="9.2" stroke="none"/>
<circle cx="570.2" cy="3008.3" r="9.2" stroke="none"/>
<circle cx="586.4" cy="3049.6" r="9.2" stroke="none"/>
<circle cx="602.7" cy="3026.7" r="9.2" stroke="none"/>
<circle cx="618.9" cy="3024.4" r="9.2" stroke="none"/>
<circle cx="635.2" cy="2999.2" r="9.2" stroke="none"/>
<circle cx="651.4" cy="2984.3" r="9.2" stroke="none"/>
<circle cx="667.7" cy="2894.9" r="9.2" stroke="none"/>
<circle cx="683.9" cy="2866.3" r="9.2" stroke="none"/>
<circle cx="700.2" cy="2819.3" r="9.2" stroke="none"/>
<circle cx="716.4" cy="2908.7" r="9.2" stroke="none"/>
<circle cx="732.7" cy="2888.0" r="9.2" stroke="none"/>
<circle cx="748.9" cy="2953.3" r="9.2" stroke="none"/>
<circle cx="765.2" cy="2916.7" r="9.2" stroke="none"/>
<circle cx="781.4" cy="2829.6" r="9.2" stroke="none"/>
<circle cx="797.7" cy="2905.2" r="9.2" stroke="none"/>
<circle cx="813.9" cy="2940.7" r="9.2" stroke="none"/>
<circle cx="830.2" cy="2987.7" r="9.2" stroke="none"/>
<circle cx="846.4" cy="3017.5" r="9.2" stroke="none"/>
<circle cx="862.7" cy="3067.9" r="9.2" stroke="none"/>
<circle cx="878.9" cy="3131.0" r="9.2" stroke="none"/>
<circle cx="895.2" cy="2996.9" r="9.2" stroke="none"/>
<circle cx="911.4" cy="2933.9" r="9.2" stroke="none"/>
<circle cx="927.7" cy="2948.8" r="9.2" stroke="none"/>
<circle cx="943.9" cy="3009.5" r="9.2" stroke="none"/>
<circle cx="960.2" cy="3149.3" r="9.2" stroke="none"/>
<circle cx="976.4" cy="2979.7" r="9.2" stroke="none"/>
<circle cx="992.7" cy="3017.5" r="9.2" stroke="none"/>
<circle cx="1008.9" cy="2833.0" r="9.2" stroke="none"/>
<circle cx="1025.2" cy="2868.5" r="9.2" stroke="none"/>
<circle cx="1041.4" cy="2889.2" r="9.2" stroke="none"/>
<circle cx="1057.7" cy="2921.3" r="9.2" stroke="none"/>
<circle cx="1073.9" cy="2920.1" r="9.2" stroke="none"/>
<circle cx="1090.2" cy="2800.9" r="9.2" stroke="none"/>
<circle cx="1106.4" cy="2862.8" r="9.2" stroke="none"/>
<circle cx="1122.7" cy="2875.4" r="9.2" stroke="none"/>
<circle cx="1138.9" cy="2835.3" r="9.2" stroke="none"/>
<circle cx="1155.2" cy="2823.9" r="9.2" stroke="none"/>
<circle cx="1171.4" cy="2826.1" r="9.2" stroke="none"/>
<circle cx="1187.7" cy="2868.5" r="9.2" stroke="none"/>
<circle cx="1203.9" cy="2849.1" r="9.2" stroke="none"/>
<circle cx="1220.2" cy="2889.2" r="9.2" stroke="none"/>
<circle cx="1236.4" cy="2984.3" r="9.2" stroke="none"/>
<circle cx="1252.7" cy="2933.9" r="9.2" stroke="none"/>
<circle cx="1268.9" cy="2875.4" r="9.2" stroke="none"/>
<circle cx="1285.2" cy="2951.1" r="9.2" stroke="none"/>
<circle cx="1301.4" cy="3015.2" r="9.2" stroke="none"/>
<circle cx="1317.7" cy="3008.3" r="9.2" stroke="none"/>
<circle cx="1333.9" cy="3053.0" r="9.2" stroke="none"/>
<circle cx="1350.2" cy="3205.4" r="9.2" stroke="none"/>
<circle cx="1366.4" cy="3181.4" r="9.2" stroke="none"/>
<circle cx="1382.7" cy="3194.0" r="9.2" stroke="none"/>
<circle cx="1398.9" cy="3165.3" r="9.2" stroke="none"/>
<circle cx="1415.2" cy="3056.5" r="9.2" stroke="none"/>
<circle cx="1512.7" cy="2852.5" r="9.2" stroke="none"/>
<circle cx="1528.9" cy="2877.7" r="9.2" stroke="none"/>
<circle cx="1545.2" cy="2849.1" r="9.2" stroke="none"/>
<circle cx="1561.4" cy="2828.4" r="9.2" stroke="none"/>
<circle cx="1577.7" cy="2919.0" r="9.2" stroke="none"/>
<circle cx="1593.9" cy="2898.3" r="9.2" stroke="none"/>
<circle cx="1610.2" cy="2860.5" r="9.2" stroke="none"/>
<circle cx="1626.4" cy="2858.2" r="9.2" stroke="none"/>
<circle cx="1642.7" cy="2916.7" r="9.2" stroke="none"/>
<circle cx="1658.9" cy="2913.2" r="9.2" stroke="none"/>
<circle cx="1675.2" cy="3008.3" r="9.2" stroke="none"/>
<circle cx="1691.4" cy="3034.7" r="9.2" stroke="none"/>
<circle cx="1707.7" cy="3118.4" r="9.2" stroke="none"/>
<circle cx="1723.9" cy="3169.9" r="9.2" stroke="none"/>
<circle cx="1740.2" cy="3120.6" r="9.2" stroke="none"/>
<circle cx="1756.4" cy="3070.2" r="9.2" stroke="none"/>
<circle cx="1772.7" cy="3055.3" r="9.2" stroke="none"/>
<circle cx="1788.9" cy="2979.7" r="9.2" stroke="none"/>
<circle cx="1805.2" cy="2974.0" r="9.2" stroke="none"/>
<circle cx="1821.4" cy="2975.1" r="9.2" stroke="none"/>
<circle cx="1837.7" cy="2964.8" r="9.2" stroke="none"/>
<circle cx="1853.9" cy="2933.9" r="9.2" stroke="none"/>
<circle cx="1870.2" cy="2946.5" r="9.2" stroke="none"/>
</g>
<g stroke="#000000" fill="#000000">
<polyline fill="none" stroke-width="3.5" stroke-linejoin="round" points="196.4,3037.0 212.7,2986.6 228.9,2907.5 245.2,2917.8 261.4,2949.9 277.7,2937.3 293.9,2878.9 310.2,2828.4 326.4,2811.3 342.7,2841.0 358.9,2899.5 375.2,2929.3 391.4,3034.7 407.7,2964.8 423.9,3027.8 440.2,3034.7 456.4,2955.6 472.7,3032.4 488.9,3097.7 505.2,3203.2 521.4,3224.9 537.7,3211.2 553.9,3092.0 570.2,3037.0 586.4,3006.1 602.7,3034.7 618.9,2943.0 635.2,2961.4 651.4,2915.5 667.7,2901.8 683.9,2869.7 700.2,2857.1 716.4,2893.8 732.7,2844.5 748.9,2826.1 765.2,2819.3 781.4,2878.9 797.7,2894.9 813.9,2905.2 830.2,2977.4 846.4,3067.9 862.7,3057.6 878.9,3038.1 895.2,3030.1 911.4,2972.8 927.7,2976.3 943.9,2940.7 960.2,2995.7 976.4,2961.4 992.7,2959.1 1008.9,2936.2 1025.2,2916.7 1041.4,2953.3 1057.7,2898.3 1073.9,2870.8 1090.2,2861.7 1106.4,2853.7 1122.7,2844.5 1138.9,2838.8 1155.2,2817.0 1171.4,2802.1 1187.7,2790.6 1203.9,2850.2 1220.2,2906.4 1236.4,2907.5"/>
<polyline fill="none" stroke-width="3.5" stroke-linejoin="round" points="1382.7,3122.9 1398.9,3102.3 1415.2,3051.9 1431.4,2975.1 1447.7,3000.3 1463.9,3003.8 1480.2,2929.3 1496.4,2910.9 1512.7,2927.0 1528.9,2920.1 1545.2,2843.3 1561.4,2838.8 1577.7,2898.3 1593.9,2868.5 1610.2,2939.6 1626.4,2939.6 1642.7,2922.4 1658.9,2962.5 1675.2,3064.5 1691.4,3164.2 1707.7,3147.0 1723.9,3118.4 1740.2,3136.7 1756.4,3093.1 1772.7,2972.8 1788.9,2966.0 1805.2,2932.7 1821.4,3019.8 1837.7,3004.9 1853.9,2992.3 1870.2,2956.8"/>
<circle cx="196.4" cy="3037.0" r="9.2" stroke="none"/>
<circle cx="212.7" cy="2986.6" r="9.2" stroke="none"/>
<circle cx="228.9" cy="2907.5" r="9.2" stroke="none"/>
<circle cx="245.2" cy="2917.8" r="9.2" stroke="none"/>
<circle cx="261.4" cy="2949.9" r="9.2" stroke="none"/>
<circle cx="277.7" cy="2937.3" r="9.2" stroke="none"/>
<circle cx="293.9" cy="2878.9" r="9.2" stroke="none"/>
<circle cx="310.2" cy="2828.4" r="9.2" stroke="none"/>
<circle cx="326.4" cy="2811.3" r="9.2" stroke="none"/>
<circle cx="342.7" cy="2841.0" r="9.2" stroke="none"/>
<circle cx="358.9" cy="2899.5" r="9.2" stroke="none"/>
<circle cx="375.2" cy="2929.3" r="9.2" stroke="none"/>
<circle cx="391.4" cy="3034.7" r="9.2" stroke="none"/>
<circle cx="407.7" cy="2964.8" r="9.2" stroke="none"/>
<circle cx="423.9" cy="3027.8" r="9.2" stroke="none"/>
<circle cx="440.2" cy="3034.7" r="9.2" stroke="none"/>
<circle cx="456.4" cy="2955.6" r="9.2" stroke="none"/>
<circle cx="472.7" cy="3032.4" r="9.2" stroke="none"/>
<circle cx="488.9" cy="3097.7" r="9.2" stroke="none"/>
<circle cx="505.2" cy="3203.2" r="9.2" stroke="none"/>
<circle cx="521.4" cy="3224.9" r="9.2" stroke="none"/>
<circle cx="537.7" cy="3211.2" r="9.2" stroke="none"/>
<circle cx="553.9" cy="3092.0" r="9.2" stroke="none"/>
<circle cx="570.2" cy="3037.0" r="9.2" stroke="none"/>
<circle cx="586.4" cy="3006.1" r="9.2" stroke="none"/>
<circle cx="602.7" cy="3034.7" r="9.2" stroke="none"/>
<circle cx="618.9" cy="2943.0" r="9.2" stroke="none"/>
<circle cx="635.2" cy="2961.4" r="9.2" stroke="none"/>
<circle cx="651.4" cy="2915.5" r="9.2" stroke="none"/>
<circle cx="667.7" cy="2901.8" r="9.2" stroke="none"/>
<circle cx="683.9" cy="2869.7" r="9.2" stroke="none"/>
<circle cx="700.2" cy="2857.1" r="9.2" stroke="none"/>
<circle cx="716.4" cy="2893.8" r="9.2" stroke="none"/>
<circle cx="732.7" cy="2844.5" r="9.2" stroke="none"/>
<circle cx="748.9" cy="2826.1" r="9.2" stroke="none"/>
<circle cx="765.2" cy="2819.3" r="9.2" stroke="none"/>
<circle cx="781.4" cy="2878.9" r="9.2" stroke="none"/>
<circle cx="797.7" cy="2894.9" r="9.2" stroke="none"/>
<circle cx="813.9" cy="2905.2" r="9.2" stroke="none"/>
<circle cx="830.2" cy="2977.4" r="9.2" stroke="none"/>
<circle cx="846.4" cy="3067.9" r="9.2" stroke="none"/>
<circle cx="862.7" cy="3057.6" r="9.2" stroke="none"/>
<circle cx="878.9" cy="3038.1" r="9.2" stroke="none"/>
<circle cx="895.2" cy="3030.1" r="9.2" stroke="none"/>
<circle cx="911.4" cy="2972.8" r="9.2" stroke="none"/>
<circle cx="927.7" cy="2976.3" r="9.2" stroke="none"/>
<circle cx="943.9" cy="2940.7" r="9.2" stroke="none"/>
<circle cx="960.2" cy="2995.7" r="9.2" stroke="none"/>
<circle cx="976.4" cy="2961.4" r="9.2" stroke="none"/>
<circle cx="992.7" cy="2959.1" r="9.2" stroke="none"/>
<circle cx="1008.9" cy="2936.2" r="9.2" stroke="none"/>
<circle cx="1025.2" cy="2916.7" r="9.2" stroke="none"/>
<circle cx="1041.4" cy="2953.3" r="9.2" stroke="none"/>
<circle cx="1057.7" cy="2898.3" r="9.2" stroke="none"/>
<circle cx="1073.9" cy="2870.8" r="9.2" stroke="none"/>
<circle cx="1090.2" cy="2861.7" r="9.2" stroke="none"/>
<circle cx="1106.4" cy="2853.7" r="9.2" stroke="none"/>
<circle cx="1122.7" cy="2844.5" r="9.2" stroke="none"/>
<circle cx="1138.9" cy="2838.8" r="9.2" stroke="none"/>
<circle cx="1155.2" cy="2817.0" r="9.2" stroke="none"/>
<circle cx="1171.4" cy="2802.1" r="9.2" stroke="none"/>
<circle cx="1187.7" cy="2790.6" r="9.2" stroke="none"/>
<circle cx="1203.9" cy="2850.2" r="9.2" stroke="none"/>
<circle cx="1220.2" cy="2906.4" r="9.2" stroke="none"/>
<circle cx="1236.4" cy="2907.5" r="9.2" stroke="none"/>
<circle cx="1382.7" cy="3122.9" r="9.2" stroke="none"/>
<circle cx="1398.9" cy="3102.3" r="9.2" stroke="none"/>
<circle cx="1415.2" cy="3051.9" r="9.2" stroke="none"/>
<circle cx="1431.4" cy="2975.1" r="9.2" stroke="none"/>
<circle cx="1447.7" cy="3000.3" r="9.2" stroke="none"/>
<circle cx="1463.9" cy="3003.8" r="9.2" stroke="none"/>
<circle cx="1480.2" cy="2929.3" r="9.2" stroke="none"/>
<circle cx="1496.4" cy="2910.9" r="9.2" stroke="none"/>
<circle cx="1512.7" cy="2927.0" r="9.2" stroke="none"/>
<circle cx="1528.9" cy="2920.1" r="9.2" stroke="none"/>
<circle cx="1545.2" cy="2843.3" r="9.2" stroke="none"/>
<circle cx="1561.4" cy="2838.8" r="9.2" stroke="none"/>
<circle cx="1577.7" cy="2898.3" r="9.2" stroke="none"/>
<circle cx="1593.9" cy="2868.5" r="9.2" stroke="none"/>
<circle cx="1610.2" cy="2939.6" r="9.2" stroke="none"/>
<circle cx="1626.4" cy="2939.6" r="9.2" stroke="none"/>
<circle cx="1642.7" cy="2922.4" r="9.2" stroke="none"/>
<circle cx="1658.9" cy="2962.5" r="9.2" stroke="none"/>
<circle cx="1675.2" cy="3064.5" r="9.2" stroke="none"/>
<circle cx="1691.4" cy="3164.2" r="9.2" stroke="none"/>
<circle cx="1707.7" cy="3147.0" r="9.2" stroke="none"/>
<circle cx="1723.9" cy="3118.4" r="9.2" stroke="none"/>
<circle cx="1740.2" cy="3136.7" r="9.2" stroke="none"/>
<circle cx="1756.4" cy="3093.1" r="9.2" stroke="none"/>
<circle cx="1772.7" cy="2972.8" r="9.2" stroke="none"/>
<circle cx="1788.9" cy="2966.0" r="9.2" stroke="none"/>
<circle cx="1805.2" cy="2932.7" r="9.2" stroke="none"/>
<circle cx="1821.4" cy="3019.8" r="9.2" stroke="none"/>
<circle cx="1837.7" cy="3004.9" r="9.2" stroke="none"/>
<circle cx="1853.9" cy="2992.3" r="9.2" stroke="none"/>
<circle cx="1870.2" cy="2956.8" r="9.2" stroke="none"/>
</g>
<g stroke="#00ff00" fill="#00ff00">
<polyline fill="none" stroke-width="3.5" stroke-linejoin="round" points="196.4,2988.9 269.2,2916.7 341.9,2913.2 414.7,2931.6 487.5,2981.3 560.3,3076.0 633.0,2990.0 705.8,2922.4 778.6,2966.0 851.4,3022.1 924.1,2991.2 996.9,2928.1 1069.7,2902.9 1142.5,2869.7 1215.2,2897.2 1288.0,2960.2 1360.8,3063.4 1433.6,3061.1 1506.3,2971.7 1579.1,2898.3 1651.9,2946.5 1724.7,3054.2 1797.4,3004.9 1870.2,2935.0"/>
<circle cx="196.4" cy="2988.9" r="9.2" stroke="none"/>
<circle cx="269.2" cy="2916.7" r="9.2" stroke="none"/>
<circle cx="341.9" cy="2913.2" r="9.2" stroke="none"/>
<circle cx="414.7" cy="2931.6" r="9.2" stroke="none"/>
<circle cx="487.5" cy="2981.3" r="9.2" stroke="none"/>
<circle cx="560.3" cy="3076.0" r="9.2" stroke="none"/>
<circle cx="633.0" cy="2990.0" r="9.2" stroke="none"/>
<circle cx="705.8" cy="2922.4" r="9.2" stroke="none"/>
<circle cx="778.6" cy="2966.0" r="9.2" stroke="none"/>
<circle cx="851.4" cy="3022.1" r="9.2" stroke="none"/>
<circle cx="924.1" cy="2991.2" r="9.2" stroke="none"/>
<circle cx="996.9" cy="2928.1" r="9.2" stroke="none"/>
<circle cx="1069.7" cy="2902.9" r="9.2" stroke="none"/>
<circle cx="1142.5" cy="2869.7" r="9.2" stroke="none"/>
<circle cx="1215.2" cy="2897.2" r="9.2" stroke="none"/>
<circle cx="1288.0" cy="2960.2" r="9.2" stroke="none"/>
<circle cx="1360.8" cy="3063.4" r="9.2" stroke="none"/>
<circle cx="1433.6" cy="3061.1" r="9.2" stroke="none"/>
<circle cx="1506.3" cy="2971.7" r="9.2" stroke="none"/>
<circle cx="1579.1" cy="2898.3" r="9.2" stroke="none"/>
<circle cx="1651.9" cy="2946.5" r="9.2" stroke="none"/>
<circle cx="1724.7" cy="3054.2" r="9.2" stroke="none"/>
<circle cx="1797.4" cy="3004.9" r="9.2" stroke="none"/>
<circle cx="1870.2" cy="2935.0" r="9.2" stroke="none"/>
</g>
<g stroke="#00ffff" fill="#00ffff">
<polyline fill="none" stroke-width="3.5" stroke-linejoin="round" points="196.4,2951.1 269.2,2971.7 341.9,2959.1 414.7,2955.6 487.5,3112.6 560.3,3041.6 633.0,2972.8 705.8,2959.1 778.6,2893.8 851.4,3045.0 924.1,2972.8 996.9,2940.7 1069.7,2904.1 1142.5,2922.4 1215.2,2962.5 1288.0,2945.3 1360.8,3076.0 1433.6,3056.5 1506.3,2943.0 1579.1,2931.6 1651.9,2924.7 1724.7,3057.6 1797.4,2998.0 1870.2,2939.6"/>
<circle cx="196.4" cy="2951.1" r="9.2" stroke="none"/>
<circle cx="269.2" cy="2971.7" r="9.2" stroke="none"/>
<circle cx="341.9" cy="2959.1" r="9.2" stroke="none"/>
<circle cx="414.7" cy="2955.6" r="9.2" stroke="none"/>
<circle cx="487.5" cy="3112.6" r="9.2" stroke="none"/>
<circle cx="560.3" cy="3041.6" r="9.2" stroke="none"/>
<circle cx="633.0" cy="2972.8" r="9.2" stroke="none"/>
<circle cx="705.8" cy="2959.1" r="9.2" stroke="none"/>
<circle cx="778.6" cy="2893.8" r="9.2" stroke="none"/>
<circle cx="851.4" cy="3045.0" r="9.2" stroke="none"/>
<circle cx="924.1" cy="2972.8" r="9.2" stroke="none"/>
<circle cx="996.9" cy="2940.7" r="9.2" stroke="none"/>
<circle cx="1069.7" cy="2904.1" r="9.2" stroke="none"/>
<circle cx="1142.5" cy="2922.4" r="9.2" stroke="none"/>
<circle cx="1215.2" cy="2962.5" r="9.2" stroke="none"/>
<circle cx="1288.0" cy="2945.3" r="9.2" stroke="none"/>
<circle cx="1360.8" cy="3076.0" r="9.2" stroke="none"/>
<circle cx="1433.6" cy="3056.5" r="9.2" stroke="none"/>
<circle cx="1506.3" cy="2943.0" r="9.2" stroke="none"/>
<circle cx="1579.1" cy="2931.6" r="9.2" stroke="none"/>
<circle cx="1651.9" cy="2924.7" r="9.2" stroke="none"/>
<circle cx="1724.7" cy="3057.6" r="9.2" stroke="none"/>
<circle cx="1797.4" cy="2998.0" r="9.2" stroke="none"/>
<circle cx="1870.2" cy="2939.6" r="9.2" stroke="none"/>
</g>
</g>
<text class="t" transform="translate(197.2 3655.5) scale(0.968 1)" text-anchor="middle">J</text>
<text class="t" transform="translate(347.7 3655.5) scale(0.968 1)" text-anchor="middle">M</text>
<text class="t" transform="translate(500.0 3655.5) scale(0.968 1)" text-anchor="middle">M</text>
<text class="t" transform="translate(652.2 3655.5) scale(0.968 1)" text-anchor="middle">J</text>
<text class="t" transform="translate(804.5 3655.5) scale(0.968 1)" text-anchor="middle">S</text>
<text class="t" transform="translate(956.7 3655.5) scale(0.968 1)" text-anchor="middle">N</text>
<text class="t" transform="translate(1109.0 3655.5) scale(0.968 1)" text-anchor="middle">J</text>
<text class="t" transform="translate(1261.2 3655.5) scale(0.968 1)" text-anchor="middle">M</text>
<text class="t" transform="translate(1413.5 3655.5) scale(0.968 1)" text-anchor="middle">M</text>
<text class="t" transform="translate(1565.7 3655.5) scale(0.968 1)" text-anchor="middle">J</text>
<text class="t" transform="translate(1718.0 3655.5) scale(0.968 1)" text-anchor="middle">S</text>
<text class="t" transform="translate(1870.2 3655.5) scale(0.968 1)" text-anchor="middle">N</text>
<text class="t" transform="translate(171.7 2813.5) scale(0.968 1)" text-anchor="end">36</text>
<text class="t" transform="translate(171.7 3074.3) scale(0.968 1)" text-anchor="end">35</text>
<text class="t" transform="translate(171.7 3335.2) scale(0.968 1)" text-anchor="end">34</text>
<text class="t" transform="translate(171.7 3596.0) scale(0.968 1)" text-anchor="end">33</text>
<text class="yl" xml:space="preserve" transform="translate(81 3115.6) rotate(-90)" text-anchor="middle">SSS  (PSU)</text>
<text class="ti" transform="translate(663.0 2602.0) scale(0.9435 1)">(c) PRIATA, 4N23W</text>
<rect x="635.0" y="3252.3" width="1235.2" height="320.6" fill="#ffffff" stroke="#3c3c3c" stroke-width="3.2"/>
<path d="M650.8 3290.5H807.0" stroke="#000000" stroke-width="3.3"/>
<circle cx="728.8" cy="3290.5" r="9.3" fill="#000000"/>
<text class="l" x="820.8" y="3308.3">Buoy</text>
<text class="l" x="988.0" y="3308.3">N=96</text>
<path d="M650.8 3352.2H807.0" stroke="#0000ff" stroke-width="3.3"/>
<circle cx="728.8" cy="3352.2" r="9.3" fill="#0000ff"/>
<text class="l" x="820.8" y="3370.1">SMOS</text>
<text class="l" x="989.0" y="3370.1">Bias=0.01,</text>
<text class="l" x="1244.2" y="3370.1">RMSD=0.24,</text>
<text class="l" x="1551.7" y="3370.1">Corr=0.79</text>
<path d="M650.8 3414.0H807.0" stroke="#ff0000" stroke-width="3.3"/>
<circle cx="728.8" cy="3414.0" r="9.3" fill="#ff0000"/>
<text class="l" x="820.8" y="3431.8">SMAP</text>
<text class="l" x="989.0" y="3431.8">Bias=-0.02,</text>
<text class="l" x="1260.3" y="3431.8">RMSD=0.21,</text>
<text class="l" x="1568.3" y="3431.8">Corr=0.85</text>
<path d="M650.8 3475.8H807.0" stroke="#00ff00" stroke-width="3.3"/>
<circle cx="728.8" cy="3475.8" r="9.3" fill="#00ff00"/>
<text class="l" x="820.8" y="3493.6">ISAS</text>
<text class="l" x="960.8" y="3493.6">Bias=-0.02,</text>
<text class="l" x="1229.8" y="3493.6">RMSD=0.20,</text>
<text class="l" x="1538.4" y="3493.6">Corr=0.76</text>
<path d="M650.8 3537.5H807.0" stroke="#00ffff" stroke-width="3.3"/>
<circle cx="728.8" cy="3537.5" r="9.3" fill="#00ffff"/>
<text class="l" x="821.5" y="3555.3">WODSSS</text>
<text class="l" x="1060.3" y="3555.3">Bias=-0.06,</text>
<text class="l" x="1332.0" y="3555.3">RMSD=0.20,</text>
<text class="l" x="1639.0" y="3555.3">Corr=0.78</text>
<text class="xl" transform="translate(391.9 3737.3) scale(0.971 1)">Time</text>
<text class="xl" transform="translate(600.4 3737.3) scale(0.971 1)">(</text>
<text class="xl" transform="translate(656.5 3737.3) scale(0.971 1)">1st</text>
<text class="xl" transform="translate(771.5 3737.3) scale(0.971 1)">Jan,</text>
<text class="xl" transform="translate(937.3 3737.3) scale(0.971 1)">2018</text>
<text class="xl" transform="translate(1108.1 3737.3) scale(0.971 1)">-</text>
<text class="xl" transform="translate(1164.3 3737.3) scale(0.971 1)">31st</text>
<text class="xl" transform="translate(1318.3 3737.3) scale(0.971 1)">Dec,</text>
<text class="xl" transform="translate(1482.5 3737.3) scale(0.971 1)">2019</text>
<text class="xl" transform="translate(1648.2 3737.3) scale(0.971 1)">)</text>
</g></svg></body></html>
